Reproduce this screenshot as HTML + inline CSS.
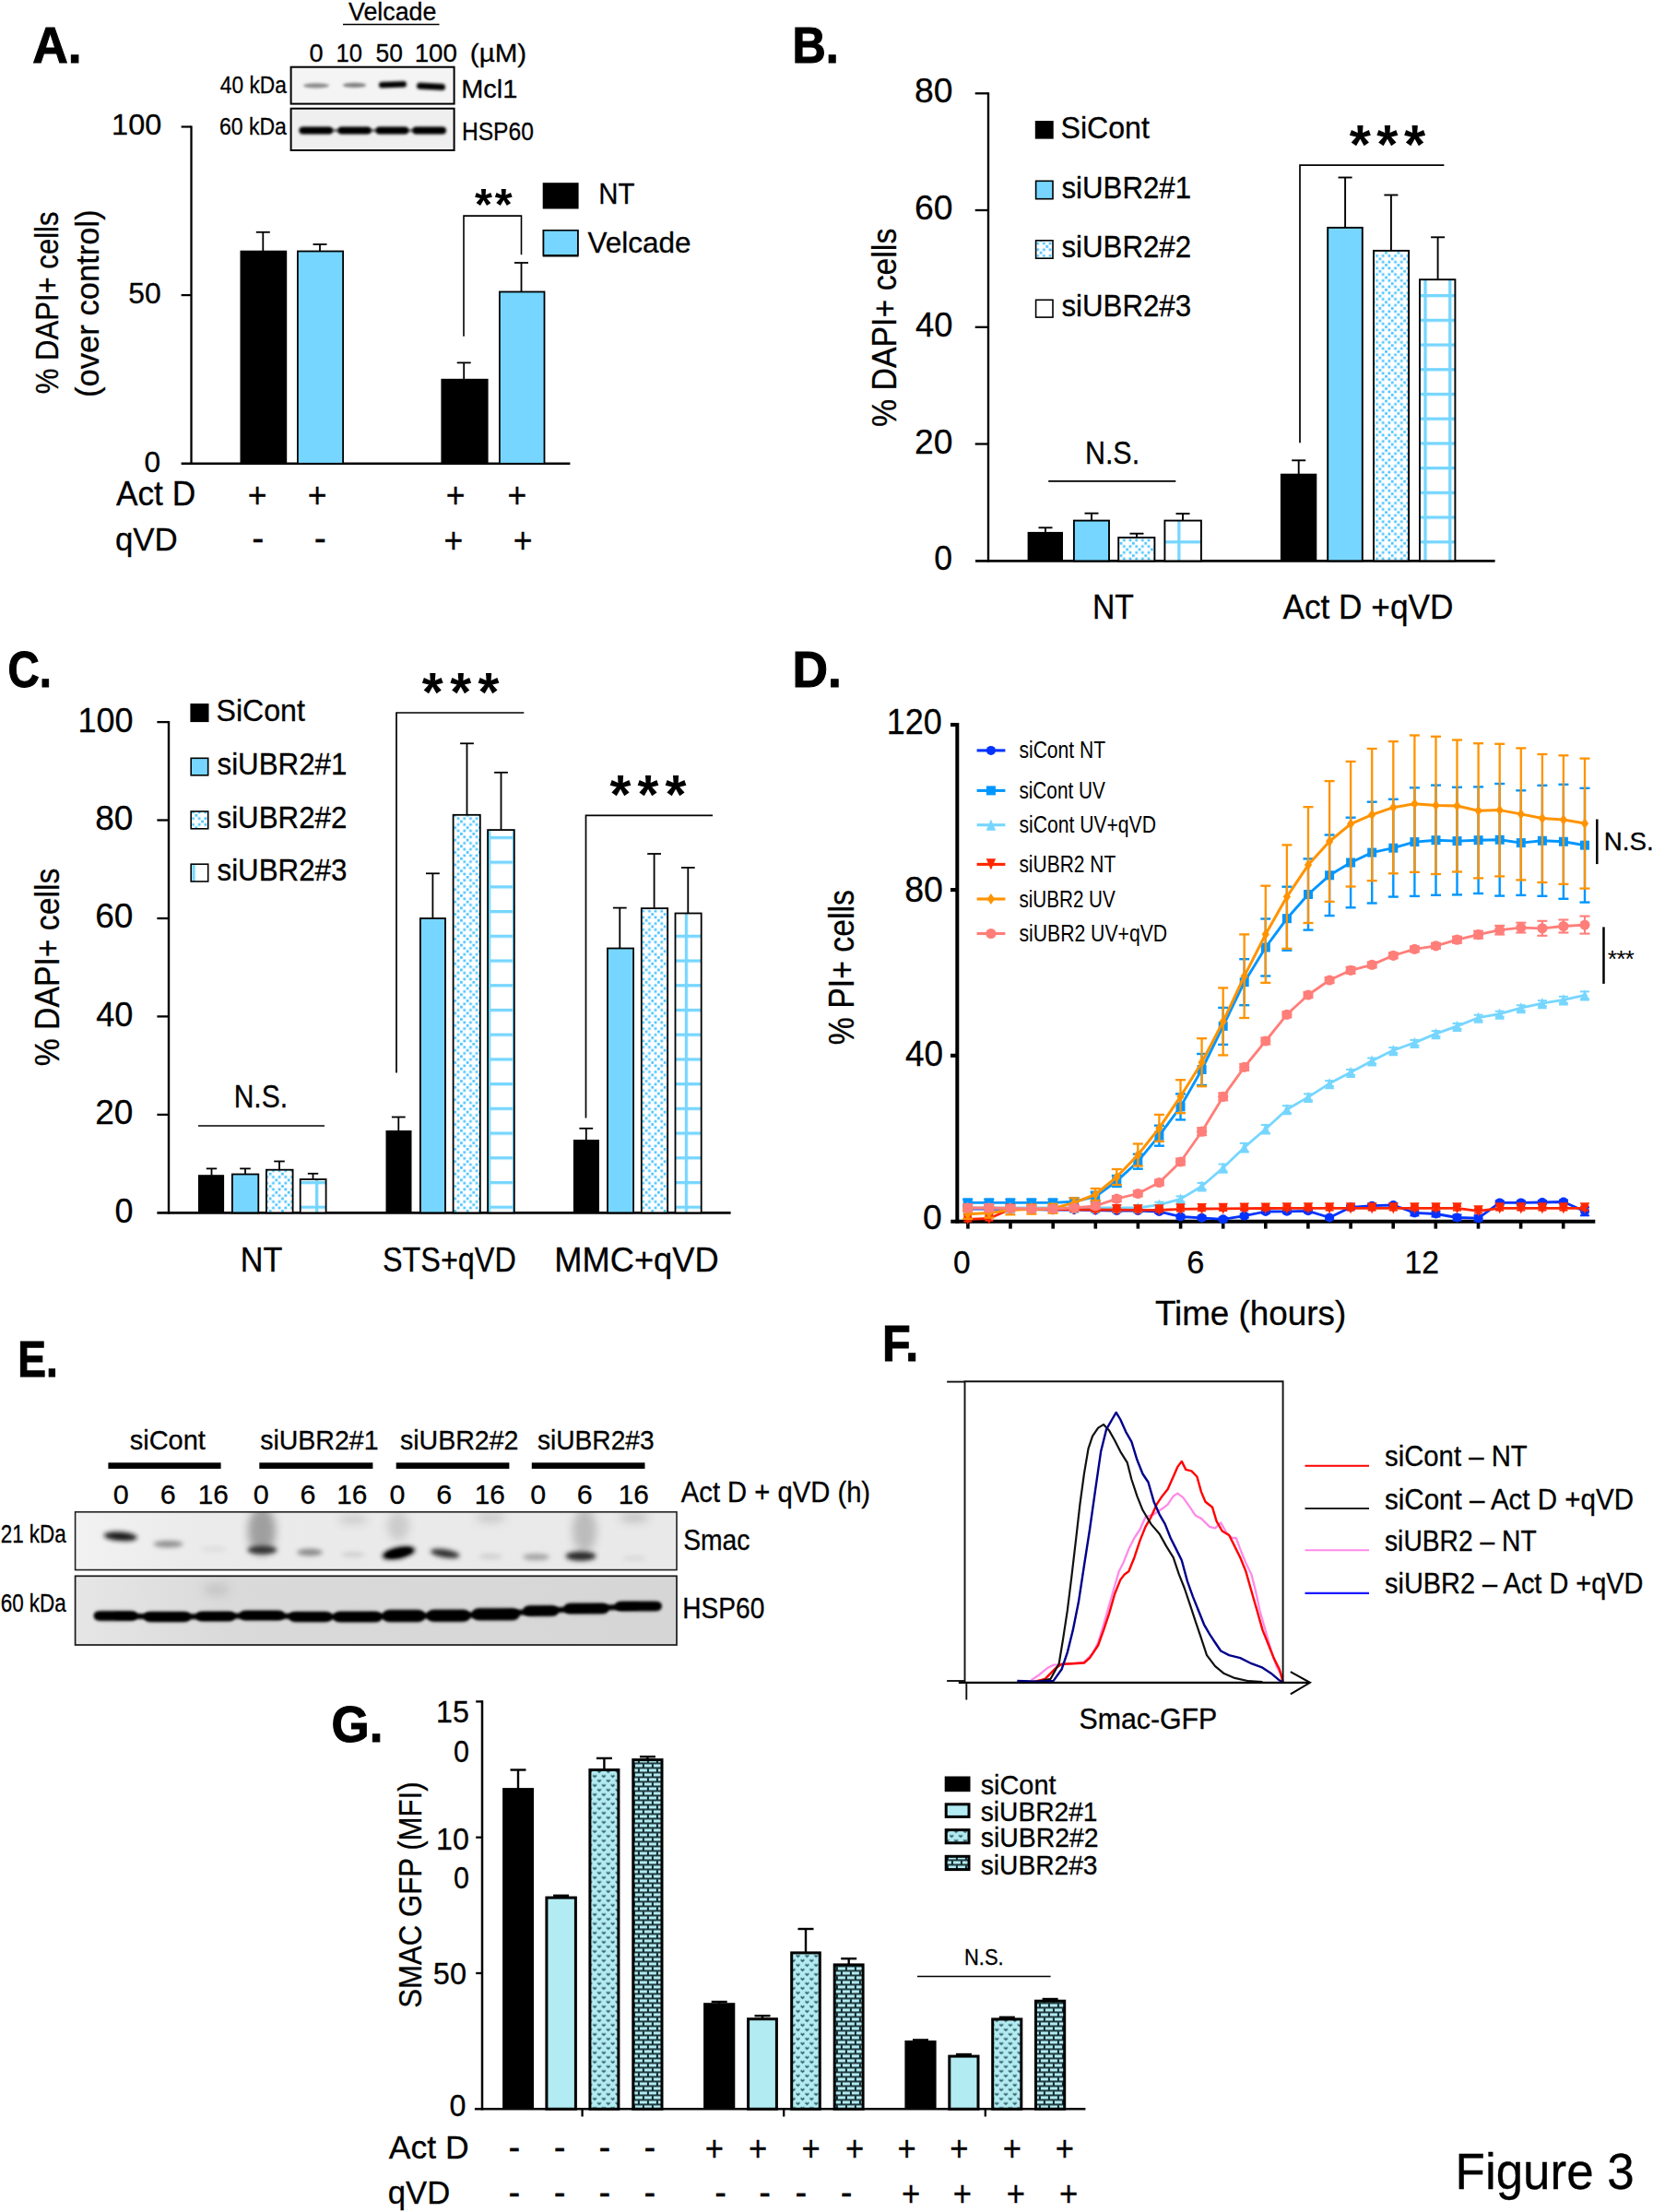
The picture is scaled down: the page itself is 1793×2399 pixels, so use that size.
<!DOCTYPE html>
<html><head><meta charset="utf-8"><title>Figure 3</title>
<style>html,body{margin:0;padding:0;background:#fff}svg{display:block}text{font-family:"Liberation Sans", sans-serif;fill:#000;white-space:pre;stroke:#000;stroke-width:0.3px}text[font-weight=bold]{stroke-width:1.1px}text.ar{stroke-width:0}</style>
</head><body>
<svg width="1793" height="2399" viewBox="0 0 1793 2399">
<defs>
<pattern id="chk" patternUnits="userSpaceOnUse" x="1228.0" y="587.9" width="13.375" height="13.41">
<rect width="13.375" height="13.41" fill="#fff"/>
<g fill="#4CC4FF"><rect x="0.000" y="0.000" width="2.7" height="2.7"/><rect x="3.344" y="3.353" width="2.7" height="2.7"/><rect x="10.031" y="3.353" width="2.7" height="2.7"/><rect x="6.688" y="6.705" width="2.7" height="2.7"/><rect x="3.344" y="10.058" width="2.7" height="2.7"/><rect x="10.031" y="10.058" width="2.7" height="2.7"/></g>
</pattern>
<pattern id="grid" patternUnits="userSpaceOnUse" x="1277.2" y="586.2" width="26.72" height="26.72">
<rect width="26.72" height="26.72" fill="#fff"/>
<rect width="3.3" height="26.72" fill="#76D6FF"/><rect width="26.72" height="3.3" fill="#76D6FF"/>
</pattern>
<pattern id="dots" patternUnits="userSpaceOnUse" x="642.6" y="1923.7" width="9.8" height="10">
<rect width="9.8" height="10" fill="#B2EBF2"/>
<g fill="none" stroke="#2f5960" stroke-width="1.5"><path d="M0.6,1.6 L2.5,3.4 L4.4,1.6"/><path d="M5.5,6.6 L7.4,8.4 L9.3,6.6"/></g>
</pattern>
<pattern id="brick" patternUnits="userSpaceOnUse" x="696.9" y="1911.5" width="10" height="10">
<rect width="10" height="10" fill="#B2EBF2"/>
<g fill="#10282b"><rect width="10" height="1.8"/><rect y="5" width="10" height="1.8"/><rect y="1.8" width="2" height="3.2"/><rect x="5" y="6.8" width="2" height="3.2"/></g>
</pattern>
<filter id="b1" x="-30%" y="-100%" width="160%" height="300%"><feGaussianBlur stdDeviation="1.6"/></filter>
<filter id="b2" x="-30%" y="-100%" width="160%" height="300%"><feGaussianBlur stdDeviation="2.6"/></filter>
<filter id="b3" x="-30%" y="-100%" width="160%" height="300%"><feGaussianBlur stdDeviation="5"/></filter>
<clipPath id="cA1"><rect x="315.8" y="72.8" width="176.6" height="39.6"/></clipPath>
<clipPath id="cA2"><rect x="315.8" y="117.8" width="176.6" height="45"/></clipPath>
<clipPath id="cE1"><rect x="81.6" y="1639.8" width="652.4" height="62.8"/></clipPath>
<clipPath id="cE2"><rect x="81.6" y="1709.3" width="652.4" height="74.7"/></clipPath>
<linearGradient id="gE2" x1="0" x2="1" y1="0" y2="0"><stop offset="0" stop-color="#e6e6e6"/><stop offset="0.25" stop-color="#dadada"/><stop offset="1" stop-color="#d6d6d6"/></linearGradient>
<linearGradient id="gE1" x1="0" x2="1" y1="0" y2="0"><stop offset="0" stop-color="#f2f2f2"/><stop offset="0.2" stop-color="#ebebeb"/><stop offset="1" stop-color="#e9e9e9"/></linearGradient>
</defs>

<rect width="1793" height="2399" fill="#fff"/>
<text x="35.25" y="68.00" font-size="56.10" font-weight="bold" textLength="53.36" lengthAdjust="spacingAndGlyphs">A.</text>
<text x="378.00" y="21.80" font-size="27.62" textLength="95.34" lengthAdjust="spacingAndGlyphs">Velcade</text>
<line x1="372.0" y1="26.5" x2="476.5" y2="26.5" stroke="#000" stroke-width="1.6" />
<text x="335.40" y="67.00" font-size="27.14" textLength="15.09" lengthAdjust="spacingAndGlyphs">0</text>
<text x="364.51" y="67.00" font-size="27.14" textLength="28.47" lengthAdjust="spacingAndGlyphs">10</text>
<text x="407.53" y="67.00" font-size="27.14" textLength="29.36" lengthAdjust="spacingAndGlyphs">50</text>
<text x="449.66" y="67.00" font-size="27.14" textLength="46.23" lengthAdjust="spacingAndGlyphs">100</text>
<text x="509.83" y="67.20" font-size="27.76" textLength="61.39" lengthAdjust="spacingAndGlyphs">(µM)</text>
<text x="238.80" y="100.60" font-size="26.60" textLength="72.01" lengthAdjust="spacingAndGlyphs">40 kDa</text>
<text x="237.93" y="146.30" font-size="26.60" textLength="72.88" lengthAdjust="spacingAndGlyphs">60 kDa</text>
<text x="500.20" y="105.80" font-size="27.62" textLength="61.12" lengthAdjust="spacingAndGlyphs">Mcl1</text>
<text x="500.92" y="151.60" font-size="27.62" textLength="78.00" lengthAdjust="spacingAndGlyphs">HSP60</text>
<rect x="315.0" y="72.0" width="178.1" height="41.0" fill="#f4f4f4"  />
<g clip-path="url(#cA1)">
<ellipse cx="343" cy="92.8" rx="14" ry="2.6" fill="#8a8a8a" filter="url(#b1)"/>
<ellipse cx="384.5" cy="92.4" rx="12.5" ry="2.6" fill="#808080" filter="url(#b1)"/>
<rect x="411" y="88.6" width="30" height="6.4" rx="3.2" fill="#050505" filter="url(#b1)" transform="rotate(-2 426 92)"/>
<rect x="452" y="90.2" width="31" height="7" rx="3.5" fill="#050505" filter="url(#b1)" transform="rotate(3 467 94)"/>
</g>
<rect x="315.6" y="72.7" width="177.0" height="39.9" fill="none" stroke="#000" stroke-width="2.0" />
<rect x="315.0" y="117.0" width="178.1" height="46.6" fill="#efefef"  />
<g clip-path="url(#cA2)">
<rect x="324.4" y="137.4" width="36.6" height="8.2" rx="4.1" fill="#000" filter="url(#b1)"/>
<rect x="366.5" y="137.4" width="36.1" height="8.2" rx="4.1" fill="#000" filter="url(#b1)"/>
<rect x="407.6" y="137.4" width="35.6" height="8.2" rx="4.1" fill="#000" filter="url(#b1)"/>
<rect x="447.4" y="137.4" width="36.6" height="8.2" rx="4.1" fill="#000" filter="url(#b1)"/>
<rect x="330" y="140" width="150" height="3" fill="#000" filter="url(#b1)" opacity="0.6"/>
</g>
<rect x="315.6" y="117.7" width="177.0" height="45.3" fill="none" stroke="#000" stroke-width="2.0" />
<line x1="207.5" y1="136.4" x2="207.5" y2="504.0" stroke="#000" stroke-width="2.3" />
<line x1="196.6" y1="502.8" x2="618.4" y2="502.8" stroke="#000" stroke-width="2.4" />
<line x1="196.6" y1="137.5" x2="207.5" y2="137.5" stroke="#000" stroke-width="2.2" />
<line x1="196.6" y1="320.1" x2="207.5" y2="320.1" stroke="#000" stroke-width="2.2" />
<text x="121.10" y="146.10" font-size="30.86" textLength="54.12" lengthAdjust="spacingAndGlyphs">100</text>
<text x="139.37" y="328.90" font-size="30.86" textLength="35.42" lengthAdjust="spacingAndGlyphs">50</text>
<text x="156.57" y="511.60" font-size="30.57" textLength="17.56" lengthAdjust="spacingAndGlyphs">0</text>
<text transform="translate(63.00,426.40) rotate(-90)" x="-0.91" y="0" font-size="34.16" textLength="197.89" lengthAdjust="spacingAndGlyphs">% DAPI+ cells</text>
<text transform="translate(107.10,429.00) rotate(-90)" x="-2.03" y="0" font-size="34.16" textLength="203.81" lengthAdjust="spacingAndGlyphs">(over control)</text>
<rect x="260.5" y="271.7" width="50.7" height="231.1" fill="#000"  />
<rect x="322.9" y="272.5" width="49.2" height="230.3" fill="#76D6FF" stroke="#000" stroke-width="1.8" />
<rect x="478.4" y="410.8" width="51.2" height="92.0" fill="#000"  />
<rect x="541.9" y="316.5" width="48.6" height="186.3" fill="#76D6FF" stroke="#000" stroke-width="1.8" />
<line x1="285.3" y1="251.8" x2="285.3" y2="272.0" stroke="#000" stroke-width="1.8" />
<line x1="277.8" y1="251.8" x2="292.8" y2="251.8" stroke="#000" stroke-width="1.8" />
<line x1="347.0" y1="265.0" x2="347.0" y2="272.0" stroke="#000" stroke-width="1.8" />
<line x1="339.5" y1="265.0" x2="354.5" y2="265.0" stroke="#000" stroke-width="1.8" />
<line x1="503.2" y1="393.4" x2="503.2" y2="411.0" stroke="#000" stroke-width="1.8" />
<line x1="495.7" y1="393.4" x2="510.7" y2="393.4" stroke="#000" stroke-width="1.8" />
<line x1="565.5" y1="285.0" x2="565.5" y2="316.0" stroke="#000" stroke-width="1.8" />
<line x1="558.0" y1="285.0" x2="573.0" y2="285.0" stroke="#000" stroke-width="1.8" />
<polyline points="503.0,364.8 503.0,234.1 565.5,234.1 565.5,276.3" fill="none" stroke="#000" stroke-width="1.6" />
<text class="ar" x="515.00 536.73" y="238.12" font-size="48.65" font-weight="bold">**</text>
<rect x="588.7" y="198.2" width="38.9" height="28.3" fill="#000"  />
<rect x="589.5" y="249.8" width="37.3" height="27.9" fill="#76D6FF" stroke="#000" stroke-width="1.6" />
<rect x="589.5" y="249.8" width="37.3" height="27.1" fill="#76D6FF" stroke="#000" stroke-width="1.6"/>
<text x="649.17" y="220.80" font-size="32.12" textLength="39.19" lengthAdjust="spacingAndGlyphs">NT</text>
<text x="637.40" y="273.80" font-size="32.12" textLength="112.04" lengthAdjust="spacingAndGlyphs">Velcade</text>
<text x="125.90" y="548.00" font-size="36.05" textLength="86.30" lengthAdjust="spacingAndGlyphs">Act D</text>
<text x="124.92" y="597.10" font-size="35.76" textLength="67.87" lengthAdjust="spacingAndGlyphs">qVD</text>
<text x="268.64" y="549.68" font-size="38.50" textLength="20.77" lengthAdjust="spacingAndGlyphs">+</text>
<text x="333.84" y="549.68" font-size="38.50" textLength="20.77" lengthAdjust="spacingAndGlyphs">+</text>
<text x="483.74" y="549.68" font-size="38.50" textLength="20.77" lengthAdjust="spacingAndGlyphs">+</text>
<text x="550.44" y="549.68" font-size="38.50" textLength="20.77" lengthAdjust="spacingAndGlyphs">+</text>
<text x="273.35" y="597.51" font-size="41.60" textLength="13.10" lengthAdjust="spacingAndGlyphs">-</text>
<text x="340.75" y="597.51" font-size="41.60" textLength="13.10" lengthAdjust="spacingAndGlyphs">-</text>
<text x="481.54" y="599.18" font-size="38.50" textLength="20.77" lengthAdjust="spacingAndGlyphs">+</text>
<text x="556.74" y="599.18" font-size="38.50" textLength="20.77" lengthAdjust="spacingAndGlyphs">+</text>
<text x="859.62" y="68.00" font-size="56.10" font-weight="bold" textLength="50.19" lengthAdjust="spacingAndGlyphs">B.</text>
<line x1="1072.0" y1="100.2" x2="1072.0" y2="609.6" stroke="#000" stroke-width="2.4" />
<line x1="1058.0" y1="608.4" x2="1621.6" y2="608.4" stroke="#000" stroke-width="2.7" />
<line x1="1057.7" y1="481.5" x2="1072.0" y2="481.5" stroke="#000" stroke-width="2.3" />
<line x1="1057.7" y1="354.8" x2="1072.0" y2="354.8" stroke="#000" stroke-width="2.3" />
<line x1="1057.7" y1="228.0" x2="1072.0" y2="228.0" stroke="#000" stroke-width="2.3" />
<line x1="1057.7" y1="101.3" x2="1072.0" y2="101.3" stroke="#000" stroke-width="2.3" />
<text x="1013.25" y="618.30" font-size="37.57" textLength="19.79" lengthAdjust="spacingAndGlyphs">0</text>
<text x="992.01" y="491.58" font-size="37.57" textLength="41.48" lengthAdjust="spacingAndGlyphs">20</text>
<text x="993.00" y="364.86" font-size="37.57" textLength="40.46" lengthAdjust="spacingAndGlyphs">40</text>
<text x="992.01" y="238.14" font-size="37.57" textLength="41.48" lengthAdjust="spacingAndGlyphs">60</text>
<text x="992.01" y="111.42" font-size="37.57" textLength="41.48" lengthAdjust="spacingAndGlyphs">80</text>
<text transform="translate(972.30,462.00) rotate(-90)" x="-0.90" y="0" font-size="37.79" textLength="215.19" lengthAdjust="spacingAndGlyphs">% DAPI+ cells</text>
<rect x="1122.8" y="131.0" width="19.9" height="19.6" fill="#000"  />
<rect x="1123.6" y="196.3" width="18.4" height="19.4" fill="#76D6FF" stroke="#000" stroke-width="1.6"/>
<rect x="1123.6" y="260.8" width="18.4" height="19.4" fill="url(#chk)" stroke="#000" stroke-width="1.6"/>
<rect x="1123.6" y="325.3" width="18.4" height="18.8" fill="url(#grid)" stroke="#000" stroke-width="1.6"/>
<text x="1150.52" y="150.30" font-size="32.70" textLength="96.36" lengthAdjust="spacingAndGlyphs">SiCont</text>
<text x="1151.50" y="214.80" font-size="32.70" textLength="140.63" lengthAdjust="spacingAndGlyphs">siUBR2#1</text>
<text x="1151.50" y="279.20" font-size="32.70" textLength="140.63" lengthAdjust="spacingAndGlyphs">siUBR2#2</text>
<text x="1151.50" y="343.40" font-size="32.70" textLength="140.63" lengthAdjust="spacingAndGlyphs">siUBR2#3</text>
<text x="1176.95" y="502.60" font-size="34.74" textLength="59.17" lengthAdjust="spacingAndGlyphs">N.S.</text>
<line x1="1137.2" y1="521.9" x2="1275.3" y2="521.9" stroke="#000" stroke-width="1.7" />
<text class="ar" x="1463.70 1493.36 1523.01" y="176.85" font-size="59.46" font-weight="bold">***</text>
<polyline points="1410.0,480.2 1410.0,179.1 1566.4,179.1" fill="none" stroke="#000" stroke-width="1.7" />
<rect x="1114.6" y="576.9" width="38.4" height="31.5" fill="#000"  />
<line x1="1134.0" y1="572.3" x2="1134.0" y2="577.4" stroke="#000" stroke-width="1.9" />
<line x1="1126.5" y1="572.3" x2="1141.5" y2="572.3" stroke="#000" stroke-width="1.9" />
<rect x="1164.9" y="564.6" width="38.1" height="43.8" fill="#76D6FF" stroke="#000" stroke-width="1.9" />
<line x1="1184.0" y1="556.7" x2="1184.0" y2="564.1" stroke="#000" stroke-width="1.9" />
<line x1="1176.5" y1="556.7" x2="1191.5" y2="556.7" stroke="#000" stroke-width="1.9" />
<rect x="1213.2" y="583.0" width="39.2" height="25.4" fill="url(#chk)" stroke="#000" stroke-width="1.9" />
<line x1="1233.0" y1="578.7" x2="1233.0" y2="582.5" stroke="#000" stroke-width="1.9" />
<line x1="1225.5" y1="578.7" x2="1240.5" y2="578.7" stroke="#000" stroke-width="1.9" />
<rect x="1263.4" y="564.6" width="39.5" height="43.8" fill="url(#grid)" stroke="#000" stroke-width="1.9" />
<line x1="1283.0" y1="557.1" x2="1283.0" y2="564.1" stroke="#000" stroke-width="1.9" />
<line x1="1275.5" y1="557.1" x2="1290.5" y2="557.1" stroke="#000" stroke-width="1.9" />
<rect x="1388.9" y="513.7" width="39.4" height="94.7" fill="#000"  />
<line x1="1408.7" y1="499.3" x2="1408.7" y2="514.2" stroke="#000" stroke-width="1.9" />
<line x1="1401.2" y1="499.3" x2="1416.2" y2="499.3" stroke="#000" stroke-width="1.9" />
<rect x="1440.2" y="246.9" width="37.6" height="361.4" fill="#76D6FF" stroke="#000" stroke-width="1.9" />
<line x1="1459.1" y1="192.5" x2="1459.1" y2="246.5" stroke="#000" stroke-width="1.9" />
<line x1="1451.6" y1="192.5" x2="1466.6" y2="192.5" stroke="#000" stroke-width="1.9" />
<rect x="1490.0" y="271.9" width="38.1" height="336.4" fill="url(#chk)" stroke="#000" stroke-width="1.9" />
<line x1="1508.9" y1="211.5" x2="1508.9" y2="271.5" stroke="#000" stroke-width="1.9" />
<line x1="1501.4" y1="211.5" x2="1516.4" y2="211.5" stroke="#000" stroke-width="1.9" />
<rect x="1540.0" y="303.2" width="38.4" height="305.1" fill="url(#grid)" stroke="#000" stroke-width="1.9" />
<line x1="1559.6" y1="257.3" x2="1559.6" y2="302.8" stroke="#000" stroke-width="1.9" />
<line x1="1552.1" y1="257.3" x2="1567.1" y2="257.3" stroke="#000" stroke-width="1.9" />
<text x="1185.02" y="671.40" font-size="37.79" textLength="44.95" lengthAdjust="spacingAndGlyphs">NT</text>
<text x="1391.40" y="671.40" font-size="37.79" textLength="185.10" lengthAdjust="spacingAndGlyphs">Act D +qVD</text>
<text x="8.61" y="745.00" font-size="56.10" font-weight="bold" textLength="47.42" lengthAdjust="spacingAndGlyphs">C.</text>
<line x1="183.0" y1="782.0" x2="183.0" y2="1316.5" stroke="#000" stroke-width="2.4" />
<line x1="170.4" y1="1315.3" x2="792.6" y2="1315.3" stroke="#000" stroke-width="2.7" />
<line x1="170.4" y1="1208.9" x2="183.0" y2="1208.9" stroke="#000" stroke-width="2.3" />
<line x1="170.4" y1="1102.4" x2="183.0" y2="1102.4" stroke="#000" stroke-width="2.3" />
<line x1="170.4" y1="996.0" x2="183.0" y2="996.0" stroke="#000" stroke-width="2.3" />
<line x1="170.4" y1="889.5" x2="183.0" y2="889.5" stroke="#000" stroke-width="2.3" />
<line x1="170.4" y1="783.1" x2="183.0" y2="783.1" stroke="#000" stroke-width="2.3" />
<text x="124.45" y="1325.70" font-size="37.71" textLength="19.98" lengthAdjust="spacingAndGlyphs">0</text>
<text x="103.22" y="1219.26" font-size="37.71" textLength="41.24" lengthAdjust="spacingAndGlyphs">20</text>
<text x="104.20" y="1112.82" font-size="37.71" textLength="40.23" lengthAdjust="spacingAndGlyphs">40</text>
<text x="103.22" y="1006.38" font-size="37.71" textLength="41.24" lengthAdjust="spacingAndGlyphs">60</text>
<text x="103.22" y="899.94" font-size="37.71" textLength="41.24" lengthAdjust="spacingAndGlyphs">80</text>
<text x="84.39" y="793.50" font-size="37.71" textLength="60.03" lengthAdjust="spacingAndGlyphs">100</text>
<text transform="translate(64.20,1155.40) rotate(-90)" x="-0.89" y="0" font-size="37.79" textLength="214.59" lengthAdjust="spacingAndGlyphs">% DAPI+ cells</text>
<rect x="206.4" y="763.0" width="20.1" height="20.1" fill="#000"  />
<rect x="207.2" y="822.3" width="18.5" height="18.5" fill="#76D6FF" stroke="#000" stroke-width="1.6"/>
<rect x="207.2" y="880" width="18.5" height="18.8" fill="url(#chk)" stroke="#000" stroke-width="1.6"/>
<rect x="207.2" y="937.2" width="18.5" height="18.8" fill="url(#grid)" stroke="#000" stroke-width="1.6"/>
<text x="234.52" y="782.20" font-size="32.70" textLength="96.36" lengthAdjust="spacingAndGlyphs">SiCont</text>
<text x="235.50" y="839.90" font-size="32.70" textLength="140.83" lengthAdjust="spacingAndGlyphs">siUBR2#1</text>
<text x="235.50" y="897.70" font-size="32.70" textLength="140.83" lengthAdjust="spacingAndGlyphs">siUBR2#2</text>
<text x="235.50" y="954.90" font-size="32.70" textLength="140.83" lengthAdjust="spacingAndGlyphs">siUBR2#3</text>
<text x="253.67" y="1201.20" font-size="34.74" textLength="58.42" lengthAdjust="spacingAndGlyphs">N.S.</text>
<line x1="215.0" y1="1221.0" x2="352.0" y2="1221.0" stroke="#000" stroke-width="1.7" />
<text class="ar" x="457.70 488.16 518.62" y="771.28" font-size="58.92" font-weight="bold">***</text>
<polyline points="430.0,1163.4 430.0,773.0 568.3,773.0" fill="none" stroke="#000" stroke-width="1.7" />
<text class="ar" x="661.40 691.41 721.42" y="881.58" font-size="58.92" font-weight="bold">***</text>
<polyline points="635.5,1212.4 635.5,884.4 773.0,884.4" fill="none" stroke="#000" stroke-width="1.7" />
<rect x="215.0" y="1274.2" width="28.1" height="41.1" fill="#000"  />
<line x1="229.5" y1="1267.4" x2="229.5" y2="1274.7" stroke="#000" stroke-width="1.8" />
<line x1="223.8" y1="1267.4" x2="235.2" y2="1267.4" stroke="#000" stroke-width="1.8" />
<rect x="251.9" y="1273.5" width="28.4" height="41.8" fill="#76D6FF" stroke="#000" stroke-width="1.8" />
<line x1="266.0" y1="1267.4" x2="266.0" y2="1273.1" stroke="#000" stroke-width="1.8" />
<line x1="260.2" y1="1267.4" x2="271.8" y2="1267.4" stroke="#000" stroke-width="1.8" />
<rect x="288.9" y="1268.7" width="28.7" height="46.6" fill="url(#chk)" stroke="#000" stroke-width="1.8" />
<line x1="303.0" y1="1259.5" x2="303.0" y2="1268.3" stroke="#000" stroke-width="1.8" />
<line x1="297.2" y1="1259.5" x2="308.8" y2="1259.5" stroke="#000" stroke-width="1.8" />
<rect x="325.7" y="1279.0" width="27.9" height="36.3" fill="url(#grid)" stroke="#000" stroke-width="1.8" />
<line x1="339.5" y1="1272.8" x2="339.5" y2="1278.6" stroke="#000" stroke-width="1.8" />
<line x1="333.8" y1="1272.8" x2="345.2" y2="1272.8" stroke="#000" stroke-width="1.8" />
<rect x="418.5" y="1226.0" width="28.0" height="89.3" fill="#000"  />
<line x1="432.3" y1="1211.5" x2="432.3" y2="1226.5" stroke="#000" stroke-width="1.8" />
<line x1="424.9" y1="1211.5" x2="439.7" y2="1211.5" stroke="#000" stroke-width="1.8" />
<rect x="455.9" y="996.0" width="27.1" height="319.3" fill="#76D6FF" stroke="#000" stroke-width="1.8" />
<line x1="469.4" y1="947.3" x2="469.4" y2="995.6" stroke="#000" stroke-width="1.8" />
<line x1="462.0" y1="947.3" x2="476.8" y2="947.3" stroke="#000" stroke-width="1.8" />
<rect x="491.6" y="883.8" width="29.2" height="431.5" fill="url(#chk)" stroke="#000" stroke-width="1.8" />
<line x1="506.5" y1="806.3" x2="506.5" y2="883.4" stroke="#000" stroke-width="1.8" />
<line x1="499.1" y1="806.3" x2="513.9" y2="806.3" stroke="#000" stroke-width="1.8" />
<rect x="529.1" y="900.1" width="28.7" height="415.2" fill="url(#grid)" stroke="#000" stroke-width="1.8" />
<line x1="543.5" y1="837.8" x2="543.5" y2="899.7" stroke="#000" stroke-width="1.8" />
<line x1="536.1" y1="837.8" x2="550.9" y2="837.8" stroke="#000" stroke-width="1.8" />
<rect x="621.9" y="1236.0" width="28.1" height="79.3" fill="#000"  />
<line x1="635.8" y1="1223.8" x2="635.8" y2="1236.5" stroke="#000" stroke-width="1.8" />
<line x1="628.4" y1="1223.8" x2="643.2" y2="1223.8" stroke="#000" stroke-width="1.8" />
<rect x="659.0" y="1028.5" width="28.1" height="286.8" fill="#76D6FF" stroke="#000" stroke-width="1.8" />
<line x1="672.3" y1="984.6" x2="672.3" y2="1028.1" stroke="#000" stroke-width="1.8" />
<line x1="664.9" y1="984.6" x2="679.7" y2="984.6" stroke="#000" stroke-width="1.8" />
<rect x="695.8" y="985.1" width="28.4" height="330.2" fill="url(#chk)" stroke="#000" stroke-width="1.8" />
<line x1="709.6" y1="926.0" x2="709.6" y2="984.7" stroke="#000" stroke-width="1.8" />
<line x1="702.2" y1="926.0" x2="717.0" y2="926.0" stroke="#000" stroke-width="1.8" />
<rect x="732.5" y="990.5" width="28.2" height="324.8" fill="url(#grid)" stroke="#000" stroke-width="1.8" />
<line x1="746.3" y1="941.0" x2="746.3" y2="990.1" stroke="#000" stroke-width="1.8" />
<line x1="738.9" y1="941.0" x2="753.7" y2="941.0" stroke="#000" stroke-width="1.8" />
<text x="260.78" y="1378.50" font-size="37.79" textLength="45.59" lengthAdjust="spacingAndGlyphs">NT</text>
<text x="414.94" y="1378.50" font-size="37.79" textLength="144.86" lengthAdjust="spacingAndGlyphs">STS+qVD</text>
<text x="601.32" y="1378.50" font-size="37.79" textLength="178.31" lengthAdjust="spacingAndGlyphs">MMC+qVD</text>
<text x="859.45" y="745.00" font-size="56.10" font-weight="bold" textLength="53.36" lengthAdjust="spacingAndGlyphs">D.</text>
<line x1="1038.3" y1="783.9" x2="1038.3" y2="1326.7" stroke="#000" stroke-width="4.0" />
<line x1="1031.3" y1="1324.7" x2="1730.3" y2="1324.7" stroke="#000" stroke-width="4.1" />
<line x1="1031.0" y1="786.0" x2="1038.3" y2="786.0" stroke="#000" stroke-width="4.1" />
<line x1="1031.0" y1="965.1" x2="1038.3" y2="965.1" stroke="#000" stroke-width="4.1" />
<line x1="1031.0" y1="1144.8" x2="1038.3" y2="1144.8" stroke="#000" stroke-width="4.1" />
<line x1="1049.9" y1="1324.7" x2="1049.9" y2="1332.6" stroke="#000" stroke-width="3.6" />
<line x1="1096.0" y1="1324.7" x2="1096.0" y2="1332.6" stroke="#000" stroke-width="3.6" />
<line x1="1142.2" y1="1324.7" x2="1142.2" y2="1332.6" stroke="#000" stroke-width="3.6" />
<line x1="1188.3" y1="1324.7" x2="1188.3" y2="1332.6" stroke="#000" stroke-width="3.6" />
<line x1="1234.4" y1="1324.7" x2="1234.4" y2="1332.6" stroke="#000" stroke-width="3.6" />
<line x1="1280.6" y1="1324.7" x2="1280.6" y2="1332.6" stroke="#000" stroke-width="3.6" />
<line x1="1326.7" y1="1324.7" x2="1326.7" y2="1332.6" stroke="#000" stroke-width="3.6" />
<line x1="1372.8" y1="1324.7" x2="1372.8" y2="1332.6" stroke="#000" stroke-width="3.6" />
<line x1="1418.9" y1="1324.7" x2="1418.9" y2="1332.6" stroke="#000" stroke-width="3.6" />
<line x1="1465.1" y1="1324.7" x2="1465.1" y2="1332.6" stroke="#000" stroke-width="3.6" />
<line x1="1511.2" y1="1324.7" x2="1511.2" y2="1332.6" stroke="#000" stroke-width="3.6" />
<line x1="1557.3" y1="1324.7" x2="1557.3" y2="1332.6" stroke="#000" stroke-width="3.6" />
<line x1="1603.5" y1="1324.7" x2="1603.5" y2="1332.6" stroke="#000" stroke-width="3.6" />
<line x1="1649.6" y1="1324.7" x2="1649.6" y2="1332.6" stroke="#000" stroke-width="3.6" />
<line x1="1695.7" y1="1324.7" x2="1695.7" y2="1332.6" stroke="#000" stroke-width="3.6" />
<text x="961.70" y="795.50" font-size="37.86" textLength="60.10" lengthAdjust="spacingAndGlyphs">120</text>
<text x="981.22" y="977.50" font-size="38.29" textLength="41.74" lengthAdjust="spacingAndGlyphs">80</text>
<text x="981.90" y="1156.40" font-size="38.29" textLength="41.04" lengthAdjust="spacingAndGlyphs">40</text>
<text x="1001.01" y="1333.30" font-size="37.71" textLength="20.75" lengthAdjust="spacingAndGlyphs">0</text>
<text x="1034.12" y="1381.10" font-size="34.29" textLength="18.61" lengthAdjust="spacingAndGlyphs">0</text>
<text x="1287.20" y="1381.00" font-size="34.29" textLength="19.06" lengthAdjust="spacingAndGlyphs">6</text>
<text x="1523.43" y="1380.80" font-size="34.29" textLength="37.51" lengthAdjust="spacingAndGlyphs">12</text>
<text x="1252.90" y="1436.90" font-size="37.79" textLength="207.34" lengthAdjust="spacingAndGlyphs">Time (hours)</text>
<text transform="translate(926.30,1132.40) rotate(-90)" x="-0.89" y="0" font-size="38.23" textLength="168.27" lengthAdjust="spacingAndGlyphs">% PI+ cells</text>
<line x1="1049.7" y1="1309.0" x2="1049.7" y2="1313.0" stroke="#0433FF" stroke-width="2.0" />
<line x1="1044.7" y1="1309.0" x2="1054.7" y2="1309.0" stroke="#0433FF" stroke-width="2.0" />
<line x1="1044.7" y1="1313.0" x2="1054.7" y2="1313.0" stroke="#0433FF" stroke-width="2.0" />
<line x1="1072.8" y1="1309.0" x2="1072.8" y2="1313.0" stroke="#0433FF" stroke-width="2.0" />
<line x1="1067.8" y1="1309.0" x2="1077.8" y2="1309.0" stroke="#0433FF" stroke-width="2.0" />
<line x1="1067.8" y1="1313.0" x2="1077.8" y2="1313.0" stroke="#0433FF" stroke-width="2.0" />
<line x1="1095.9" y1="1309.5" x2="1095.9" y2="1313.5" stroke="#0433FF" stroke-width="2.0" />
<line x1="1090.9" y1="1309.5" x2="1100.9" y2="1309.5" stroke="#0433FF" stroke-width="2.0" />
<line x1="1090.9" y1="1313.5" x2="1100.9" y2="1313.5" stroke="#0433FF" stroke-width="2.0" />
<line x1="1118.9" y1="1309.5" x2="1118.9" y2="1313.5" stroke="#0433FF" stroke-width="2.0" />
<line x1="1113.9" y1="1309.5" x2="1123.9" y2="1309.5" stroke="#0433FF" stroke-width="2.0" />
<line x1="1113.9" y1="1313.5" x2="1123.9" y2="1313.5" stroke="#0433FF" stroke-width="2.0" />
<line x1="1142.0" y1="1310.0" x2="1142.0" y2="1314.0" stroke="#0433FF" stroke-width="2.0" />
<line x1="1137.0" y1="1310.0" x2="1147.0" y2="1310.0" stroke="#0433FF" stroke-width="2.0" />
<line x1="1137.0" y1="1314.0" x2="1147.0" y2="1314.0" stroke="#0433FF" stroke-width="2.0" />
<line x1="1165.1" y1="1310.0" x2="1165.1" y2="1314.0" stroke="#0433FF" stroke-width="2.0" />
<line x1="1160.1" y1="1310.0" x2="1170.1" y2="1310.0" stroke="#0433FF" stroke-width="2.0" />
<line x1="1160.1" y1="1314.0" x2="1170.1" y2="1314.0" stroke="#0433FF" stroke-width="2.0" />
<line x1="1188.2" y1="1310.5" x2="1188.2" y2="1314.5" stroke="#0433FF" stroke-width="2.0" />
<line x1="1183.2" y1="1310.5" x2="1193.2" y2="1310.5" stroke="#0433FF" stroke-width="2.0" />
<line x1="1183.2" y1="1314.5" x2="1193.2" y2="1314.5" stroke="#0433FF" stroke-width="2.0" />
<line x1="1211.3" y1="1311.0" x2="1211.3" y2="1315.0" stroke="#0433FF" stroke-width="2.0" />
<line x1="1206.3" y1="1311.0" x2="1216.3" y2="1311.0" stroke="#0433FF" stroke-width="2.0" />
<line x1="1206.3" y1="1315.0" x2="1216.3" y2="1315.0" stroke="#0433FF" stroke-width="2.0" />
<line x1="1234.3" y1="1311.0" x2="1234.3" y2="1315.0" stroke="#0433FF" stroke-width="2.0" />
<line x1="1229.3" y1="1311.0" x2="1239.3" y2="1311.0" stroke="#0433FF" stroke-width="2.0" />
<line x1="1229.3" y1="1315.0" x2="1239.3" y2="1315.0" stroke="#0433FF" stroke-width="2.0" />
<line x1="1257.4" y1="1312.0" x2="1257.4" y2="1316.0" stroke="#0433FF" stroke-width="2.0" />
<line x1="1252.4" y1="1312.0" x2="1262.4" y2="1312.0" stroke="#0433FF" stroke-width="2.0" />
<line x1="1252.4" y1="1316.0" x2="1262.4" y2="1316.0" stroke="#0433FF" stroke-width="2.0" />
<line x1="1280.5" y1="1317.5" x2="1280.5" y2="1321.5" stroke="#0433FF" stroke-width="2.0" />
<line x1="1275.5" y1="1317.5" x2="1285.5" y2="1317.5" stroke="#0433FF" stroke-width="2.0" />
<line x1="1275.5" y1="1321.5" x2="1285.5" y2="1321.5" stroke="#0433FF" stroke-width="2.0" />
<line x1="1303.6" y1="1318.8" x2="1303.6" y2="1322.8" stroke="#0433FF" stroke-width="2.0" />
<line x1="1298.6" y1="1318.8" x2="1308.6" y2="1318.8" stroke="#0433FF" stroke-width="2.0" />
<line x1="1298.6" y1="1322.8" x2="1308.6" y2="1322.8" stroke="#0433FF" stroke-width="2.0" />
<line x1="1326.7" y1="1320.3" x2="1326.7" y2="1324.3" stroke="#0433FF" stroke-width="2.0" />
<line x1="1321.7" y1="1320.3" x2="1331.7" y2="1320.3" stroke="#0433FF" stroke-width="2.0" />
<line x1="1321.7" y1="1324.3" x2="1331.7" y2="1324.3" stroke="#0433FF" stroke-width="2.0" />
<line x1="1349.7" y1="1316.6" x2="1349.7" y2="1320.6" stroke="#0433FF" stroke-width="2.0" />
<line x1="1344.7" y1="1316.6" x2="1354.7" y2="1316.6" stroke="#0433FF" stroke-width="2.0" />
<line x1="1344.7" y1="1320.6" x2="1354.7" y2="1320.6" stroke="#0433FF" stroke-width="2.0" />
<line x1="1372.8" y1="1312.0" x2="1372.8" y2="1316.0" stroke="#0433FF" stroke-width="2.0" />
<line x1="1367.8" y1="1312.0" x2="1377.8" y2="1312.0" stroke="#0433FF" stroke-width="2.0" />
<line x1="1367.8" y1="1316.0" x2="1377.8" y2="1316.0" stroke="#0433FF" stroke-width="2.0" />
<line x1="1395.9" y1="1311.8" x2="1395.9" y2="1315.8" stroke="#0433FF" stroke-width="2.0" />
<line x1="1390.9" y1="1311.8" x2="1400.9" y2="1311.8" stroke="#0433FF" stroke-width="2.0" />
<line x1="1390.9" y1="1315.8" x2="1400.9" y2="1315.8" stroke="#0433FF" stroke-width="2.0" />
<line x1="1419.0" y1="1311.3" x2="1419.0" y2="1315.3" stroke="#0433FF" stroke-width="2.0" />
<line x1="1414.0" y1="1311.3" x2="1424.0" y2="1311.3" stroke="#0433FF" stroke-width="2.0" />
<line x1="1414.0" y1="1315.3" x2="1424.0" y2="1315.3" stroke="#0433FF" stroke-width="2.0" />
<line x1="1442.1" y1="1318.5" x2="1442.1" y2="1322.5" stroke="#0433FF" stroke-width="2.0" />
<line x1="1437.1" y1="1318.5" x2="1447.1" y2="1318.5" stroke="#0433FF" stroke-width="2.0" />
<line x1="1437.1" y1="1322.5" x2="1447.1" y2="1322.5" stroke="#0433FF" stroke-width="2.0" />
<line x1="1465.1" y1="1307.3" x2="1465.1" y2="1311.3" stroke="#0433FF" stroke-width="2.0" />
<line x1="1460.1" y1="1307.3" x2="1470.1" y2="1307.3" stroke="#0433FF" stroke-width="2.0" />
<line x1="1460.1" y1="1311.3" x2="1470.1" y2="1311.3" stroke="#0433FF" stroke-width="2.0" />
<line x1="1488.2" y1="1305.7" x2="1488.2" y2="1309.7" stroke="#0433FF" stroke-width="2.0" />
<line x1="1483.2" y1="1305.7" x2="1493.2" y2="1305.7" stroke="#0433FF" stroke-width="2.0" />
<line x1="1483.2" y1="1309.7" x2="1493.2" y2="1309.7" stroke="#0433FF" stroke-width="2.0" />
<line x1="1511.3" y1="1305.0" x2="1511.3" y2="1309.0" stroke="#0433FF" stroke-width="2.0" />
<line x1="1506.3" y1="1305.0" x2="1516.3" y2="1305.0" stroke="#0433FF" stroke-width="2.0" />
<line x1="1506.3" y1="1309.0" x2="1516.3" y2="1309.0" stroke="#0433FF" stroke-width="2.0" />
<line x1="1534.4" y1="1312.4" x2="1534.4" y2="1318.4" stroke="#0433FF" stroke-width="2.0" />
<line x1="1529.4" y1="1312.4" x2="1539.4" y2="1312.4" stroke="#0433FF" stroke-width="2.0" />
<line x1="1529.4" y1="1318.4" x2="1539.4" y2="1318.4" stroke="#0433FF" stroke-width="2.0" />
<line x1="1557.5" y1="1313.5" x2="1557.5" y2="1319.5" stroke="#0433FF" stroke-width="2.0" />
<line x1="1552.5" y1="1313.5" x2="1562.5" y2="1313.5" stroke="#0433FF" stroke-width="2.0" />
<line x1="1552.5" y1="1319.5" x2="1562.5" y2="1319.5" stroke="#0433FF" stroke-width="2.0" />
<line x1="1580.5" y1="1317.5" x2="1580.5" y2="1323.5" stroke="#0433FF" stroke-width="2.0" />
<line x1="1575.5" y1="1317.5" x2="1585.5" y2="1317.5" stroke="#0433FF" stroke-width="2.0" />
<line x1="1575.5" y1="1323.5" x2="1585.5" y2="1323.5" stroke="#0433FF" stroke-width="2.0" />
<line x1="1603.6" y1="1318.2" x2="1603.6" y2="1324.2" stroke="#0433FF" stroke-width="2.0" />
<line x1="1598.6" y1="1318.2" x2="1608.6" y2="1318.2" stroke="#0433FF" stroke-width="2.0" />
<line x1="1598.6" y1="1324.2" x2="1608.6" y2="1324.2" stroke="#0433FF" stroke-width="2.0" />
<line x1="1626.7" y1="1302.4" x2="1626.7" y2="1306.4" stroke="#0433FF" stroke-width="2.0" />
<line x1="1621.7" y1="1302.4" x2="1631.7" y2="1302.4" stroke="#0433FF" stroke-width="2.0" />
<line x1="1621.7" y1="1306.4" x2="1631.7" y2="1306.4" stroke="#0433FF" stroke-width="2.0" />
<line x1="1649.8" y1="1302.4" x2="1649.8" y2="1306.4" stroke="#0433FF" stroke-width="2.0" />
<line x1="1644.8" y1="1302.4" x2="1654.8" y2="1302.4" stroke="#0433FF" stroke-width="2.0" />
<line x1="1644.8" y1="1306.4" x2="1654.8" y2="1306.4" stroke="#0433FF" stroke-width="2.0" />
<line x1="1672.9" y1="1302.0" x2="1672.9" y2="1306.0" stroke="#0433FF" stroke-width="2.0" />
<line x1="1667.9" y1="1302.0" x2="1677.9" y2="1302.0" stroke="#0433FF" stroke-width="2.0" />
<line x1="1667.9" y1="1306.0" x2="1677.9" y2="1306.0" stroke="#0433FF" stroke-width="2.0" />
<line x1="1695.9" y1="1301.5" x2="1695.9" y2="1305.5" stroke="#0433FF" stroke-width="2.0" />
<line x1="1690.9" y1="1301.5" x2="1700.9" y2="1301.5" stroke="#0433FF" stroke-width="2.0" />
<line x1="1690.9" y1="1305.5" x2="1700.9" y2="1305.5" stroke="#0433FF" stroke-width="2.0" />
<line x1="1719.0" y1="1309.3" x2="1719.0" y2="1318.3" stroke="#0433FF" stroke-width="2.0" />
<line x1="1714.0" y1="1309.3" x2="1724.0" y2="1309.3" stroke="#0433FF" stroke-width="2.0" />
<line x1="1714.0" y1="1318.3" x2="1724.0" y2="1318.3" stroke="#0433FF" stroke-width="2.0" />
<polyline points="1049.7,1311.0 1072.8,1311.0 1095.9,1311.5 1118.9,1311.5 1142.0,1312.0 1165.1,1312.0 1188.2,1312.5 1211.3,1313.0 1234.3,1313.0 1257.4,1314.0 1280.5,1319.5 1303.6,1320.8 1326.7,1322.3 1349.7,1318.6 1372.8,1314.0 1395.9,1313.8 1419.0,1313.3 1442.1,1320.5 1465.1,1309.3 1488.2,1307.7 1511.3,1307.0 1534.4,1315.4 1557.5,1316.5 1580.5,1320.5 1603.6,1321.2 1626.7,1304.4 1649.8,1304.4 1672.9,1304.0 1695.9,1303.5 1719.0,1313.8" fill="none" stroke="#0433FF" stroke-width="2.8" stroke-linejoin="round"/>
<circle cx="1049.7" cy="1311.0" r="5.0" fill="#0433FF"/>
<circle cx="1072.8" cy="1311.0" r="5.0" fill="#0433FF"/>
<circle cx="1095.9" cy="1311.5" r="5.0" fill="#0433FF"/>
<circle cx="1118.9" cy="1311.5" r="5.0" fill="#0433FF"/>
<circle cx="1142.0" cy="1312.0" r="5.0" fill="#0433FF"/>
<circle cx="1165.1" cy="1312.0" r="5.0" fill="#0433FF"/>
<circle cx="1188.2" cy="1312.5" r="5.0" fill="#0433FF"/>
<circle cx="1211.3" cy="1313.0" r="5.0" fill="#0433FF"/>
<circle cx="1234.3" cy="1313.0" r="5.0" fill="#0433FF"/>
<circle cx="1257.4" cy="1314.0" r="5.0" fill="#0433FF"/>
<circle cx="1280.5" cy="1319.5" r="5.0" fill="#0433FF"/>
<circle cx="1303.6" cy="1320.8" r="5.0" fill="#0433FF"/>
<circle cx="1326.7" cy="1322.3" r="5.0" fill="#0433FF"/>
<circle cx="1349.7" cy="1318.6" r="5.0" fill="#0433FF"/>
<circle cx="1372.8" cy="1314.0" r="5.0" fill="#0433FF"/>
<circle cx="1395.9" cy="1313.8" r="5.0" fill="#0433FF"/>
<circle cx="1419.0" cy="1313.3" r="5.0" fill="#0433FF"/>
<circle cx="1442.1" cy="1320.5" r="5.0" fill="#0433FF"/>
<circle cx="1465.1" cy="1309.3" r="5.0" fill="#0433FF"/>
<circle cx="1488.2" cy="1307.7" r="5.0" fill="#0433FF"/>
<circle cx="1511.3" cy="1307.0" r="5.0" fill="#0433FF"/>
<circle cx="1534.4" cy="1315.4" r="5.0" fill="#0433FF"/>
<circle cx="1557.5" cy="1316.5" r="5.0" fill="#0433FF"/>
<circle cx="1580.5" cy="1320.5" r="5.0" fill="#0433FF"/>
<circle cx="1603.6" cy="1321.2" r="5.0" fill="#0433FF"/>
<circle cx="1626.7" cy="1304.4" r="5.0" fill="#0433FF"/>
<circle cx="1649.8" cy="1304.4" r="5.0" fill="#0433FF"/>
<circle cx="1672.9" cy="1304.0" r="5.0" fill="#0433FF"/>
<circle cx="1695.9" cy="1303.5" r="5.0" fill="#0433FF"/>
<circle cx="1719.0" cy="1313.8" r="5.0" fill="#0433FF"/>
<line x1="1049.7" y1="1300.9" x2="1049.7" y2="1307.9" stroke="#0096FF" stroke-width="2.4" />
<line x1="1044.2" y1="1300.9" x2="1055.2" y2="1300.9" stroke="#0096FF" stroke-width="2.4" />
<line x1="1044.2" y1="1307.9" x2="1055.2" y2="1307.9" stroke="#0096FF" stroke-width="2.4" />
<line x1="1072.8" y1="1300.9" x2="1072.8" y2="1307.9" stroke="#0096FF" stroke-width="2.4" />
<line x1="1067.3" y1="1300.9" x2="1078.3" y2="1300.9" stroke="#0096FF" stroke-width="2.4" />
<line x1="1067.3" y1="1307.9" x2="1078.3" y2="1307.9" stroke="#0096FF" stroke-width="2.4" />
<line x1="1095.9" y1="1300.9" x2="1095.9" y2="1307.9" stroke="#0096FF" stroke-width="2.4" />
<line x1="1090.4" y1="1300.9" x2="1101.4" y2="1300.9" stroke="#0096FF" stroke-width="2.4" />
<line x1="1090.4" y1="1307.9" x2="1101.4" y2="1307.9" stroke="#0096FF" stroke-width="2.4" />
<line x1="1118.9" y1="1300.9" x2="1118.9" y2="1307.9" stroke="#0096FF" stroke-width="2.4" />
<line x1="1113.4" y1="1300.9" x2="1124.4" y2="1300.9" stroke="#0096FF" stroke-width="2.4" />
<line x1="1113.4" y1="1307.9" x2="1124.4" y2="1307.9" stroke="#0096FF" stroke-width="2.4" />
<line x1="1142.0" y1="1300.9" x2="1142.0" y2="1307.9" stroke="#0096FF" stroke-width="2.4" />
<line x1="1136.5" y1="1300.9" x2="1147.5" y2="1300.9" stroke="#0096FF" stroke-width="2.4" />
<line x1="1136.5" y1="1307.9" x2="1147.5" y2="1307.9" stroke="#0096FF" stroke-width="2.4" />
<line x1="1165.1" y1="1299.3" x2="1165.1" y2="1307.3" stroke="#0096FF" stroke-width="2.4" />
<line x1="1159.6" y1="1299.3" x2="1170.6" y2="1299.3" stroke="#0096FF" stroke-width="2.4" />
<line x1="1159.6" y1="1307.3" x2="1170.6" y2="1307.3" stroke="#0096FF" stroke-width="2.4" />
<line x1="1188.2" y1="1292.7" x2="1188.2" y2="1302.7" stroke="#0096FF" stroke-width="2.4" />
<line x1="1182.7" y1="1292.7" x2="1193.7" y2="1292.7" stroke="#0096FF" stroke-width="2.4" />
<line x1="1182.7" y1="1302.7" x2="1193.7" y2="1302.7" stroke="#0096FF" stroke-width="2.4" />
<line x1="1211.3" y1="1275.0" x2="1211.3" y2="1287.0" stroke="#0096FF" stroke-width="2.4" />
<line x1="1205.8" y1="1275.0" x2="1216.8" y2="1275.0" stroke="#0096FF" stroke-width="2.4" />
<line x1="1205.8" y1="1287.0" x2="1216.8" y2="1287.0" stroke="#0096FF" stroke-width="2.4" />
<line x1="1234.3" y1="1251.7" x2="1234.3" y2="1267.7" stroke="#0096FF" stroke-width="2.4" />
<line x1="1228.8" y1="1251.7" x2="1239.8" y2="1251.7" stroke="#0096FF" stroke-width="2.4" />
<line x1="1228.8" y1="1267.7" x2="1239.8" y2="1267.7" stroke="#0096FF" stroke-width="2.4" />
<line x1="1257.4" y1="1220.7" x2="1257.4" y2="1242.7" stroke="#0096FF" stroke-width="2.4" />
<line x1="1251.9" y1="1220.7" x2="1262.9" y2="1220.7" stroke="#0096FF" stroke-width="2.4" />
<line x1="1251.9" y1="1242.7" x2="1262.9" y2="1242.7" stroke="#0096FF" stroke-width="2.4" />
<line x1="1280.5" y1="1186.4" x2="1280.5" y2="1214.4" stroke="#0096FF" stroke-width="2.4" />
<line x1="1275.0" y1="1186.4" x2="1286.0" y2="1186.4" stroke="#0096FF" stroke-width="2.4" />
<line x1="1275.0" y1="1214.4" x2="1286.0" y2="1214.4" stroke="#0096FF" stroke-width="2.4" />
<line x1="1303.6" y1="1143.0" x2="1303.6" y2="1177.0" stroke="#0096FF" stroke-width="2.4" />
<line x1="1298.1" y1="1143.0" x2="1309.1" y2="1143.0" stroke="#0096FF" stroke-width="2.4" />
<line x1="1298.1" y1="1177.0" x2="1309.1" y2="1177.0" stroke="#0096FF" stroke-width="2.4" />
<line x1="1326.7" y1="1092.9" x2="1326.7" y2="1132.9" stroke="#0096FF" stroke-width="2.4" />
<line x1="1321.2" y1="1092.9" x2="1332.2" y2="1092.9" stroke="#0096FF" stroke-width="2.4" />
<line x1="1321.2" y1="1132.9" x2="1332.2" y2="1132.9" stroke="#0096FF" stroke-width="2.4" />
<line x1="1349.7" y1="1040.2" x2="1349.7" y2="1090.2" stroke="#0096FF" stroke-width="2.4" />
<line x1="1344.2" y1="1040.2" x2="1355.2" y2="1040.2" stroke="#0096FF" stroke-width="2.4" />
<line x1="1344.2" y1="1090.2" x2="1355.2" y2="1090.2" stroke="#0096FF" stroke-width="2.4" />
<line x1="1372.8" y1="996.5" x2="1372.8" y2="1058.5" stroke="#0096FF" stroke-width="2.4" />
<line x1="1367.3" y1="996.5" x2="1378.3" y2="996.5" stroke="#0096FF" stroke-width="2.4" />
<line x1="1367.3" y1="1058.5" x2="1378.3" y2="1058.5" stroke="#0096FF" stroke-width="2.4" />
<line x1="1395.9" y1="961.7" x2="1395.9" y2="1030.7" stroke="#0096FF" stroke-width="2.4" />
<line x1="1390.4" y1="961.7" x2="1401.4" y2="961.7" stroke="#0096FF" stroke-width="2.4" />
<line x1="1390.4" y1="1030.7" x2="1401.4" y2="1030.7" stroke="#0096FF" stroke-width="2.4" />
<line x1="1419.0" y1="931.4" x2="1419.0" y2="1008.6" stroke="#0096FF" stroke-width="2.4" />
<line x1="1413.5" y1="931.4" x2="1424.5" y2="931.4" stroke="#0096FF" stroke-width="2.4" />
<line x1="1413.5" y1="1008.6" x2="1424.5" y2="1008.6" stroke="#0096FF" stroke-width="2.4" />
<line x1="1442.1" y1="905.5" x2="1442.1" y2="993.1" stroke="#0096FF" stroke-width="2.4" />
<line x1="1436.6" y1="905.5" x2="1447.6" y2="905.5" stroke="#0096FF" stroke-width="2.4" />
<line x1="1436.6" y1="993.1" x2="1447.6" y2="993.1" stroke="#0096FF" stroke-width="2.4" />
<line x1="1465.1" y1="886.7" x2="1465.1" y2="984.3" stroke="#0096FF" stroke-width="2.4" />
<line x1="1459.6" y1="886.7" x2="1470.6" y2="886.7" stroke="#0096FF" stroke-width="2.4" />
<line x1="1459.6" y1="984.3" x2="1470.6" y2="984.3" stroke="#0096FF" stroke-width="2.4" />
<line x1="1488.2" y1="869.7" x2="1488.2" y2="979.5" stroke="#0096FF" stroke-width="2.4" />
<line x1="1482.7" y1="869.7" x2="1493.7" y2="869.7" stroke="#0096FF" stroke-width="2.4" />
<line x1="1482.7" y1="979.5" x2="1493.7" y2="979.5" stroke="#0096FF" stroke-width="2.4" />
<line x1="1511.3" y1="866.8" x2="1511.3" y2="972.6" stroke="#0096FF" stroke-width="2.4" />
<line x1="1505.8" y1="866.8" x2="1516.8" y2="866.8" stroke="#0096FF" stroke-width="2.4" />
<line x1="1505.8" y1="972.6" x2="1516.8" y2="972.6" stroke="#0096FF" stroke-width="2.4" />
<line x1="1534.4" y1="854.3" x2="1534.4" y2="971.9" stroke="#0096FF" stroke-width="2.4" />
<line x1="1528.9" y1="854.3" x2="1539.9" y2="854.3" stroke="#0096FF" stroke-width="2.4" />
<line x1="1528.9" y1="971.9" x2="1539.9" y2="971.9" stroke="#0096FF" stroke-width="2.4" />
<line x1="1557.5" y1="851.6" x2="1557.5" y2="970.8" stroke="#0096FF" stroke-width="2.4" />
<line x1="1552.0" y1="851.6" x2="1563.0" y2="851.6" stroke="#0096FF" stroke-width="2.4" />
<line x1="1552.0" y1="970.8" x2="1563.0" y2="970.8" stroke="#0096FF" stroke-width="2.4" />
<line x1="1580.5" y1="853.8" x2="1580.5" y2="970.4" stroke="#0096FF" stroke-width="2.4" />
<line x1="1575.0" y1="853.8" x2="1586.0" y2="853.8" stroke="#0096FF" stroke-width="2.4" />
<line x1="1575.0" y1="970.4" x2="1586.0" y2="970.4" stroke="#0096FF" stroke-width="2.4" />
<line x1="1603.6" y1="853.4" x2="1603.6" y2="969.0" stroke="#0096FF" stroke-width="2.4" />
<line x1="1598.1" y1="853.4" x2="1609.1" y2="853.4" stroke="#0096FF" stroke-width="2.4" />
<line x1="1598.1" y1="969.0" x2="1609.1" y2="969.0" stroke="#0096FF" stroke-width="2.4" />
<line x1="1626.7" y1="850.0" x2="1626.7" y2="971.6" stroke="#0096FF" stroke-width="2.4" />
<line x1="1621.2" y1="850.0" x2="1632.2" y2="850.0" stroke="#0096FF" stroke-width="2.4" />
<line x1="1621.2" y1="971.6" x2="1632.2" y2="971.6" stroke="#0096FF" stroke-width="2.4" />
<line x1="1649.8" y1="857.3" x2="1649.8" y2="970.9" stroke="#0096FF" stroke-width="2.4" />
<line x1="1644.3" y1="857.3" x2="1655.3" y2="857.3" stroke="#0096FF" stroke-width="2.4" />
<line x1="1644.3" y1="970.9" x2="1655.3" y2="970.9" stroke="#0096FF" stroke-width="2.4" />
<line x1="1672.9" y1="851.8" x2="1672.9" y2="971.8" stroke="#0096FF" stroke-width="2.4" />
<line x1="1667.4" y1="851.8" x2="1678.4" y2="851.8" stroke="#0096FF" stroke-width="2.4" />
<line x1="1667.4" y1="971.8" x2="1678.4" y2="971.8" stroke="#0096FF" stroke-width="2.4" />
<line x1="1695.9" y1="850.8" x2="1695.9" y2="974.8" stroke="#0096FF" stroke-width="2.4" />
<line x1="1690.4" y1="850.8" x2="1701.4" y2="850.8" stroke="#0096FF" stroke-width="2.4" />
<line x1="1690.4" y1="974.8" x2="1701.4" y2="974.8" stroke="#0096FF" stroke-width="2.4" />
<line x1="1719.0" y1="854.8" x2="1719.0" y2="978.6" stroke="#0096FF" stroke-width="2.4" />
<line x1="1713.5" y1="854.8" x2="1724.5" y2="854.8" stroke="#0096FF" stroke-width="2.4" />
<line x1="1713.5" y1="978.6" x2="1724.5" y2="978.6" stroke="#0096FF" stroke-width="2.4" />
<polyline points="1049.7,1304.4 1072.8,1304.4 1095.9,1304.4 1118.9,1304.4 1142.0,1304.4 1165.1,1303.3 1188.2,1297.7 1211.3,1281.0 1234.3,1259.7 1257.4,1231.7 1280.5,1200.4 1303.6,1160.0 1326.7,1112.9 1349.7,1065.2 1372.8,1027.5 1395.9,996.2 1419.0,970.0 1442.1,949.3 1465.1,935.5 1488.2,924.6 1511.3,919.7 1534.4,913.1 1557.5,911.2 1580.5,912.1 1603.6,911.2 1626.7,910.8 1649.8,914.1 1672.9,911.8 1695.9,912.8 1719.0,916.7" fill="none" stroke="#0096FF" stroke-width="2.9" stroke-linejoin="round"/>
<rect x="1044.7" y="1299.4" width="10.0" height="10.0" fill="#0096FF"/>
<rect x="1067.8" y="1299.4" width="10.0" height="10.0" fill="#0096FF"/>
<rect x="1090.9" y="1299.4" width="10.0" height="10.0" fill="#0096FF"/>
<rect x="1113.9" y="1299.4" width="10.0" height="10.0" fill="#0096FF"/>
<rect x="1137.0" y="1299.4" width="10.0" height="10.0" fill="#0096FF"/>
<rect x="1160.1" y="1298.3" width="10.0" height="10.0" fill="#0096FF"/>
<rect x="1183.2" y="1292.7" width="10.0" height="10.0" fill="#0096FF"/>
<rect x="1206.3" y="1276.0" width="10.0" height="10.0" fill="#0096FF"/>
<rect x="1229.3" y="1254.7" width="10.0" height="10.0" fill="#0096FF"/>
<rect x="1252.4" y="1226.7" width="10.0" height="10.0" fill="#0096FF"/>
<rect x="1275.5" y="1195.4" width="10.0" height="10.0" fill="#0096FF"/>
<rect x="1298.6" y="1155.0" width="10.0" height="10.0" fill="#0096FF"/>
<rect x="1321.7" y="1107.9" width="10.0" height="10.0" fill="#0096FF"/>
<rect x="1344.7" y="1060.2" width="10.0" height="10.0" fill="#0096FF"/>
<rect x="1367.8" y="1022.5" width="10.0" height="10.0" fill="#0096FF"/>
<rect x="1390.9" y="991.2" width="10.0" height="10.0" fill="#0096FF"/>
<rect x="1414.0" y="965.0" width="10.0" height="10.0" fill="#0096FF"/>
<rect x="1437.1" y="944.3" width="10.0" height="10.0" fill="#0096FF"/>
<rect x="1460.1" y="930.5" width="10.0" height="10.0" fill="#0096FF"/>
<rect x="1483.2" y="919.6" width="10.0" height="10.0" fill="#0096FF"/>
<rect x="1506.3" y="914.7" width="10.0" height="10.0" fill="#0096FF"/>
<rect x="1529.4" y="908.1" width="10.0" height="10.0" fill="#0096FF"/>
<rect x="1552.5" y="906.2" width="10.0" height="10.0" fill="#0096FF"/>
<rect x="1575.5" y="907.1" width="10.0" height="10.0" fill="#0096FF"/>
<rect x="1598.6" y="906.2" width="10.0" height="10.0" fill="#0096FF"/>
<rect x="1621.7" y="905.8" width="10.0" height="10.0" fill="#0096FF"/>
<rect x="1644.8" y="909.1" width="10.0" height="10.0" fill="#0096FF"/>
<rect x="1667.9" y="906.8" width="10.0" height="10.0" fill="#0096FF"/>
<rect x="1690.9" y="907.8" width="10.0" height="10.0" fill="#0096FF"/>
<rect x="1714.0" y="911.7" width="10.0" height="10.0" fill="#0096FF"/>
<line x1="1049.7" y1="1307.0" x2="1049.7" y2="1313.0" stroke="#76D6FF" stroke-width="2.0" />
<line x1="1044.7" y1="1307.0" x2="1054.7" y2="1307.0" stroke="#76D6FF" stroke-width="2.0" />
<line x1="1044.7" y1="1313.0" x2="1054.7" y2="1313.0" stroke="#76D6FF" stroke-width="2.0" />
<line x1="1072.8" y1="1307.0" x2="1072.8" y2="1313.0" stroke="#76D6FF" stroke-width="2.0" />
<line x1="1067.8" y1="1307.0" x2="1077.8" y2="1307.0" stroke="#76D6FF" stroke-width="2.0" />
<line x1="1067.8" y1="1313.0" x2="1077.8" y2="1313.0" stroke="#76D6FF" stroke-width="2.0" />
<line x1="1095.9" y1="1307.0" x2="1095.9" y2="1313.0" stroke="#76D6FF" stroke-width="2.0" />
<line x1="1090.9" y1="1307.0" x2="1100.9" y2="1307.0" stroke="#76D6FF" stroke-width="2.0" />
<line x1="1090.9" y1="1313.0" x2="1100.9" y2="1313.0" stroke="#76D6FF" stroke-width="2.0" />
<line x1="1118.9" y1="1307.0" x2="1118.9" y2="1313.0" stroke="#76D6FF" stroke-width="2.0" />
<line x1="1113.9" y1="1307.0" x2="1123.9" y2="1307.0" stroke="#76D6FF" stroke-width="2.0" />
<line x1="1113.9" y1="1313.0" x2="1123.9" y2="1313.0" stroke="#76D6FF" stroke-width="2.0" />
<line x1="1142.0" y1="1307.0" x2="1142.0" y2="1313.0" stroke="#76D6FF" stroke-width="2.0" />
<line x1="1137.0" y1="1307.0" x2="1147.0" y2="1307.0" stroke="#76D6FF" stroke-width="2.0" />
<line x1="1137.0" y1="1313.0" x2="1147.0" y2="1313.0" stroke="#76D6FF" stroke-width="2.0" />
<line x1="1165.1" y1="1307.0" x2="1165.1" y2="1313.0" stroke="#76D6FF" stroke-width="2.0" />
<line x1="1160.1" y1="1307.0" x2="1170.1" y2="1307.0" stroke="#76D6FF" stroke-width="2.0" />
<line x1="1160.1" y1="1313.0" x2="1170.1" y2="1313.0" stroke="#76D6FF" stroke-width="2.0" />
<line x1="1188.2" y1="1307.0" x2="1188.2" y2="1313.0" stroke="#76D6FF" stroke-width="2.0" />
<line x1="1183.2" y1="1307.0" x2="1193.2" y2="1307.0" stroke="#76D6FF" stroke-width="2.0" />
<line x1="1183.2" y1="1313.0" x2="1193.2" y2="1313.0" stroke="#76D6FF" stroke-width="2.0" />
<line x1="1211.3" y1="1307.0" x2="1211.3" y2="1313.0" stroke="#76D6FF" stroke-width="2.0" />
<line x1="1206.3" y1="1307.0" x2="1216.3" y2="1307.0" stroke="#76D6FF" stroke-width="2.0" />
<line x1="1206.3" y1="1313.0" x2="1216.3" y2="1313.0" stroke="#76D6FF" stroke-width="2.0" />
<line x1="1234.3" y1="1307.0" x2="1234.3" y2="1313.0" stroke="#76D6FF" stroke-width="2.0" />
<line x1="1229.3" y1="1307.0" x2="1239.3" y2="1307.0" stroke="#76D6FF" stroke-width="2.0" />
<line x1="1229.3" y1="1313.0" x2="1239.3" y2="1313.0" stroke="#76D6FF" stroke-width="2.0" />
<line x1="1257.4" y1="1303.7" x2="1257.4" y2="1309.7" stroke="#76D6FF" stroke-width="2.0" />
<line x1="1252.4" y1="1303.7" x2="1262.4" y2="1303.7" stroke="#76D6FF" stroke-width="2.0" />
<line x1="1252.4" y1="1309.7" x2="1262.4" y2="1309.7" stroke="#76D6FF" stroke-width="2.0" />
<line x1="1280.5" y1="1297.4" x2="1280.5" y2="1303.4" stroke="#76D6FF" stroke-width="2.0" />
<line x1="1275.5" y1="1297.4" x2="1285.5" y2="1297.4" stroke="#76D6FF" stroke-width="2.0" />
<line x1="1275.5" y1="1303.4" x2="1285.5" y2="1303.4" stroke="#76D6FF" stroke-width="2.0" />
<line x1="1303.6" y1="1283.0" x2="1303.6" y2="1290.0" stroke="#76D6FF" stroke-width="2.0" />
<line x1="1298.6" y1="1283.0" x2="1308.6" y2="1283.0" stroke="#76D6FF" stroke-width="2.0" />
<line x1="1298.6" y1="1290.0" x2="1308.6" y2="1290.0" stroke="#76D6FF" stroke-width="2.0" />
<line x1="1326.7" y1="1262.6" x2="1326.7" y2="1270.6" stroke="#76D6FF" stroke-width="2.0" />
<line x1="1321.7" y1="1262.6" x2="1331.7" y2="1262.6" stroke="#76D6FF" stroke-width="2.0" />
<line x1="1321.7" y1="1270.6" x2="1331.7" y2="1270.6" stroke="#76D6FF" stroke-width="2.0" />
<line x1="1349.7" y1="1239.9" x2="1349.7" y2="1248.9" stroke="#76D6FF" stroke-width="2.0" />
<line x1="1344.7" y1="1239.9" x2="1354.7" y2="1239.9" stroke="#76D6FF" stroke-width="2.0" />
<line x1="1344.7" y1="1248.9" x2="1354.7" y2="1248.9" stroke="#76D6FF" stroke-width="2.0" />
<line x1="1372.8" y1="1220.0" x2="1372.8" y2="1229.0" stroke="#76D6FF" stroke-width="2.0" />
<line x1="1367.8" y1="1220.0" x2="1377.8" y2="1220.0" stroke="#76D6FF" stroke-width="2.0" />
<line x1="1367.8" y1="1229.0" x2="1377.8" y2="1229.0" stroke="#76D6FF" stroke-width="2.0" />
<line x1="1395.9" y1="1199.2" x2="1395.9" y2="1207.2" stroke="#76D6FF" stroke-width="2.0" />
<line x1="1390.9" y1="1199.2" x2="1400.9" y2="1199.2" stroke="#76D6FF" stroke-width="2.0" />
<line x1="1390.9" y1="1207.2" x2="1400.9" y2="1207.2" stroke="#76D6FF" stroke-width="2.0" />
<line x1="1419.0" y1="1186.4" x2="1419.0" y2="1193.4" stroke="#76D6FF" stroke-width="2.0" />
<line x1="1414.0" y1="1186.4" x2="1424.0" y2="1186.4" stroke="#76D6FF" stroke-width="2.0" />
<line x1="1414.0" y1="1193.4" x2="1424.0" y2="1193.4" stroke="#76D6FF" stroke-width="2.0" />
<line x1="1442.1" y1="1172.1" x2="1442.1" y2="1178.1" stroke="#76D6FF" stroke-width="2.0" />
<line x1="1437.1" y1="1172.1" x2="1447.1" y2="1172.1" stroke="#76D6FF" stroke-width="2.0" />
<line x1="1437.1" y1="1178.1" x2="1447.1" y2="1178.1" stroke="#76D6FF" stroke-width="2.0" />
<line x1="1465.1" y1="1160.0" x2="1465.1" y2="1166.0" stroke="#76D6FF" stroke-width="2.0" />
<line x1="1460.1" y1="1160.0" x2="1470.1" y2="1160.0" stroke="#76D6FF" stroke-width="2.0" />
<line x1="1460.1" y1="1166.0" x2="1470.1" y2="1166.0" stroke="#76D6FF" stroke-width="2.0" />
<line x1="1488.2" y1="1147.5" x2="1488.2" y2="1153.5" stroke="#76D6FF" stroke-width="2.0" />
<line x1="1483.2" y1="1147.5" x2="1493.2" y2="1147.5" stroke="#76D6FF" stroke-width="2.0" />
<line x1="1483.2" y1="1153.5" x2="1493.2" y2="1153.5" stroke="#76D6FF" stroke-width="2.0" />
<line x1="1511.3" y1="1136.1" x2="1511.3" y2="1142.1" stroke="#76D6FF" stroke-width="2.0" />
<line x1="1506.3" y1="1136.1" x2="1516.3" y2="1136.1" stroke="#76D6FF" stroke-width="2.0" />
<line x1="1506.3" y1="1142.1" x2="1516.3" y2="1142.1" stroke="#76D6FF" stroke-width="2.0" />
<line x1="1534.4" y1="1127.9" x2="1534.4" y2="1133.9" stroke="#76D6FF" stroke-width="2.0" />
<line x1="1529.4" y1="1127.9" x2="1539.4" y2="1127.9" stroke="#76D6FF" stroke-width="2.0" />
<line x1="1529.4" y1="1133.9" x2="1539.4" y2="1133.9" stroke="#76D6FF" stroke-width="2.0" />
<line x1="1557.5" y1="1118.1" x2="1557.5" y2="1124.1" stroke="#76D6FF" stroke-width="2.0" />
<line x1="1552.5" y1="1118.1" x2="1562.5" y2="1118.1" stroke="#76D6FF" stroke-width="2.0" />
<line x1="1552.5" y1="1124.1" x2="1562.5" y2="1124.1" stroke="#76D6FF" stroke-width="2.0" />
<line x1="1580.5" y1="1109.9" x2="1580.5" y2="1115.9" stroke="#76D6FF" stroke-width="2.0" />
<line x1="1575.5" y1="1109.9" x2="1585.5" y2="1109.9" stroke="#76D6FF" stroke-width="2.0" />
<line x1="1575.5" y1="1115.9" x2="1585.5" y2="1115.9" stroke="#76D6FF" stroke-width="2.0" />
<line x1="1603.6" y1="1100.7" x2="1603.6" y2="1106.7" stroke="#76D6FF" stroke-width="2.0" />
<line x1="1598.6" y1="1100.7" x2="1608.6" y2="1100.7" stroke="#76D6FF" stroke-width="2.0" />
<line x1="1598.6" y1="1106.7" x2="1608.6" y2="1106.7" stroke="#76D6FF" stroke-width="2.0" />
<line x1="1626.7" y1="1096.7" x2="1626.7" y2="1102.7" stroke="#76D6FF" stroke-width="2.0" />
<line x1="1621.7" y1="1096.7" x2="1631.7" y2="1096.7" stroke="#76D6FF" stroke-width="2.0" />
<line x1="1621.7" y1="1102.7" x2="1631.7" y2="1102.7" stroke="#76D6FF" stroke-width="2.0" />
<line x1="1649.8" y1="1090.2" x2="1649.8" y2="1096.2" stroke="#76D6FF" stroke-width="2.0" />
<line x1="1644.8" y1="1090.2" x2="1654.8" y2="1090.2" stroke="#76D6FF" stroke-width="2.0" />
<line x1="1644.8" y1="1096.2" x2="1654.8" y2="1096.2" stroke="#76D6FF" stroke-width="2.0" />
<line x1="1672.9" y1="1085.2" x2="1672.9" y2="1091.2" stroke="#76D6FF" stroke-width="2.0" />
<line x1="1667.9" y1="1085.2" x2="1677.9" y2="1085.2" stroke="#76D6FF" stroke-width="2.0" />
<line x1="1667.9" y1="1091.2" x2="1677.9" y2="1091.2" stroke="#76D6FF" stroke-width="2.0" />
<line x1="1695.9" y1="1080.8" x2="1695.9" y2="1087.8" stroke="#76D6FF" stroke-width="2.0" />
<line x1="1690.9" y1="1080.8" x2="1700.9" y2="1080.8" stroke="#76D6FF" stroke-width="2.0" />
<line x1="1690.9" y1="1087.8" x2="1700.9" y2="1087.8" stroke="#76D6FF" stroke-width="2.0" />
<line x1="1719.0" y1="1075.4" x2="1719.0" y2="1083.4" stroke="#76D6FF" stroke-width="2.0" />
<line x1="1714.0" y1="1075.4" x2="1724.0" y2="1075.4" stroke="#76D6FF" stroke-width="2.0" />
<line x1="1714.0" y1="1083.4" x2="1724.0" y2="1083.4" stroke="#76D6FF" stroke-width="2.0" />
<polyline points="1049.7,1310.0 1072.8,1310.0 1095.9,1310.0 1118.9,1310.0 1142.0,1310.0 1165.1,1310.0 1188.2,1310.0 1211.3,1310.0 1234.3,1310.0 1257.4,1306.7 1280.5,1300.4 1303.6,1286.5 1326.7,1266.6 1349.7,1244.4 1372.8,1224.5 1395.9,1203.2 1419.0,1189.9 1442.1,1175.1 1465.1,1163.0 1488.2,1150.5 1511.3,1139.1 1534.4,1130.9 1557.5,1121.1 1580.5,1112.9 1603.6,1103.7 1626.7,1099.7 1649.8,1093.2 1672.9,1088.2 1695.9,1084.3 1719.0,1079.4" fill="none" stroke="#76D6FF" stroke-width="2.8" stroke-linejoin="round"/>
<path d="M1044.5,1316.1 L1054.9,1316.1 L1049.7,1303.8Z" fill="#76D6FF"/>
<path d="M1067.6,1316.1 L1078.0,1316.1 L1072.8,1303.8Z" fill="#76D6FF"/>
<path d="M1090.7,1316.1 L1101.1,1316.1 L1095.9,1303.8Z" fill="#76D6FF"/>
<path d="M1113.7,1316.1 L1124.1,1316.1 L1118.9,1303.8Z" fill="#76D6FF"/>
<path d="M1136.8,1316.1 L1147.2,1316.1 L1142.0,1303.8Z" fill="#76D6FF"/>
<path d="M1159.9,1316.1 L1170.3,1316.1 L1165.1,1303.8Z" fill="#76D6FF"/>
<path d="M1183.0,1316.1 L1193.4,1316.1 L1188.2,1303.8Z" fill="#76D6FF"/>
<path d="M1206.1,1316.1 L1216.5,1316.1 L1211.3,1303.8Z" fill="#76D6FF"/>
<path d="M1229.1,1316.1 L1239.5,1316.1 L1234.3,1303.8Z" fill="#76D6FF"/>
<path d="M1252.2,1312.8 L1262.6,1312.8 L1257.4,1300.5Z" fill="#76D6FF"/>
<path d="M1275.3,1306.5 L1285.7,1306.5 L1280.5,1294.2Z" fill="#76D6FF"/>
<path d="M1298.4,1292.6 L1308.8,1292.6 L1303.6,1280.3Z" fill="#76D6FF"/>
<path d="M1321.5,1272.7 L1331.9,1272.7 L1326.7,1260.4Z" fill="#76D6FF"/>
<path d="M1344.5,1250.5 L1354.9,1250.5 L1349.7,1238.2Z" fill="#76D6FF"/>
<path d="M1367.6,1230.6 L1378.0,1230.6 L1372.8,1218.3Z" fill="#76D6FF"/>
<path d="M1390.7,1209.3 L1401.1,1209.3 L1395.9,1197.0Z" fill="#76D6FF"/>
<path d="M1413.8,1196.0 L1424.2,1196.0 L1419.0,1183.7Z" fill="#76D6FF"/>
<path d="M1436.9,1181.2 L1447.3,1181.2 L1442.1,1168.9Z" fill="#76D6FF"/>
<path d="M1459.9,1169.1 L1470.3,1169.1 L1465.1,1156.8Z" fill="#76D6FF"/>
<path d="M1483.0,1156.6 L1493.4,1156.6 L1488.2,1144.3Z" fill="#76D6FF"/>
<path d="M1506.1,1145.2 L1516.5,1145.2 L1511.3,1132.9Z" fill="#76D6FF"/>
<path d="M1529.2,1137.0 L1539.6,1137.0 L1534.4,1124.7Z" fill="#76D6FF"/>
<path d="M1552.3,1127.2 L1562.7,1127.2 L1557.5,1114.9Z" fill="#76D6FF"/>
<path d="M1575.3,1119.0 L1585.7,1119.0 L1580.5,1106.7Z" fill="#76D6FF"/>
<path d="M1598.4,1109.8 L1608.8,1109.8 L1603.6,1097.5Z" fill="#76D6FF"/>
<path d="M1621.5,1105.8 L1631.9,1105.8 L1626.7,1093.5Z" fill="#76D6FF"/>
<path d="M1644.6,1099.3 L1655.0,1099.3 L1649.8,1087.0Z" fill="#76D6FF"/>
<path d="M1667.7,1094.3 L1678.1,1094.3 L1672.9,1082.0Z" fill="#76D6FF"/>
<path d="M1690.7,1090.4 L1701.1,1090.4 L1695.9,1078.1Z" fill="#76D6FF"/>
<path d="M1713.8,1085.5 L1724.2,1085.5 L1719.0,1073.2Z" fill="#76D6FF"/>
<line x1="1049.7" y1="1320.2" x2="1049.7" y2="1324.6" stroke="#FF2600" stroke-width="2.0" />
<line x1="1045.2" y1="1320.2" x2="1054.2" y2="1320.2" stroke="#FF2600" stroke-width="2.0" />
<line x1="1045.2" y1="1324.6" x2="1054.2" y2="1324.6" stroke="#FF2600" stroke-width="2.0" />
<line x1="1072.8" y1="1319.3" x2="1072.8" y2="1323.7" stroke="#FF2600" stroke-width="2.0" />
<line x1="1068.3" y1="1319.3" x2="1077.3" y2="1319.3" stroke="#FF2600" stroke-width="2.0" />
<line x1="1068.3" y1="1323.7" x2="1077.3" y2="1323.7" stroke="#FF2600" stroke-width="2.0" />
<line x1="1095.9" y1="1309.3" x2="1095.9" y2="1313.7" stroke="#FF2600" stroke-width="2.0" />
<line x1="1091.4" y1="1309.3" x2="1100.4" y2="1309.3" stroke="#FF2600" stroke-width="2.0" />
<line x1="1091.4" y1="1313.7" x2="1100.4" y2="1313.7" stroke="#FF2600" stroke-width="2.0" />
<line x1="1118.9" y1="1309.4" x2="1118.9" y2="1313.8" stroke="#FF2600" stroke-width="2.0" />
<line x1="1114.4" y1="1309.4" x2="1123.4" y2="1309.4" stroke="#FF2600" stroke-width="2.0" />
<line x1="1114.4" y1="1313.8" x2="1123.4" y2="1313.8" stroke="#FF2600" stroke-width="2.0" />
<line x1="1142.0" y1="1309.5" x2="1142.0" y2="1313.9" stroke="#FF2600" stroke-width="2.0" />
<line x1="1137.5" y1="1309.5" x2="1146.5" y2="1309.5" stroke="#FF2600" stroke-width="2.0" />
<line x1="1137.5" y1="1313.9" x2="1146.5" y2="1313.9" stroke="#FF2600" stroke-width="2.0" />
<line x1="1165.1" y1="1309.6" x2="1165.1" y2="1314.0" stroke="#FF2600" stroke-width="2.0" />
<line x1="1160.6" y1="1309.6" x2="1169.6" y2="1309.6" stroke="#FF2600" stroke-width="2.0" />
<line x1="1160.6" y1="1314.0" x2="1169.6" y2="1314.0" stroke="#FF2600" stroke-width="2.0" />
<line x1="1188.2" y1="1309.8" x2="1188.2" y2="1314.2" stroke="#FF2600" stroke-width="2.0" />
<line x1="1183.7" y1="1309.8" x2="1192.7" y2="1309.8" stroke="#FF2600" stroke-width="2.0" />
<line x1="1183.7" y1="1314.2" x2="1192.7" y2="1314.2" stroke="#FF2600" stroke-width="2.0" />
<line x1="1211.3" y1="1310.0" x2="1211.3" y2="1314.4" stroke="#FF2600" stroke-width="2.0" />
<line x1="1206.8" y1="1310.0" x2="1215.8" y2="1310.0" stroke="#FF2600" stroke-width="2.0" />
<line x1="1206.8" y1="1314.4" x2="1215.8" y2="1314.4" stroke="#FF2600" stroke-width="2.0" />
<line x1="1234.3" y1="1310.1" x2="1234.3" y2="1314.5" stroke="#FF2600" stroke-width="2.0" />
<line x1="1229.8" y1="1310.1" x2="1238.8" y2="1310.1" stroke="#FF2600" stroke-width="2.0" />
<line x1="1229.8" y1="1314.5" x2="1238.8" y2="1314.5" stroke="#FF2600" stroke-width="2.0" />
<line x1="1257.4" y1="1310.1" x2="1257.4" y2="1314.5" stroke="#FF2600" stroke-width="2.0" />
<line x1="1252.9" y1="1310.1" x2="1261.9" y2="1310.1" stroke="#FF2600" stroke-width="2.0" />
<line x1="1252.9" y1="1314.5" x2="1261.9" y2="1314.5" stroke="#FF2600" stroke-width="2.0" />
<line x1="1280.5" y1="1309.2" x2="1280.5" y2="1313.6" stroke="#FF2600" stroke-width="2.0" />
<line x1="1276.0" y1="1309.2" x2="1285.0" y2="1309.2" stroke="#FF2600" stroke-width="2.0" />
<line x1="1276.0" y1="1313.6" x2="1285.0" y2="1313.6" stroke="#FF2600" stroke-width="2.0" />
<line x1="1303.6" y1="1308.8" x2="1303.6" y2="1313.2" stroke="#FF2600" stroke-width="2.0" />
<line x1="1299.1" y1="1308.8" x2="1308.1" y2="1308.8" stroke="#FF2600" stroke-width="2.0" />
<line x1="1299.1" y1="1313.2" x2="1308.1" y2="1313.2" stroke="#FF2600" stroke-width="2.0" />
<line x1="1326.7" y1="1308.6" x2="1326.7" y2="1313.0" stroke="#FF2600" stroke-width="2.0" />
<line x1="1322.2" y1="1308.6" x2="1331.2" y2="1308.6" stroke="#FF2600" stroke-width="2.0" />
<line x1="1322.2" y1="1313.0" x2="1331.2" y2="1313.0" stroke="#FF2600" stroke-width="2.0" />
<line x1="1349.7" y1="1308.4" x2="1349.7" y2="1312.8" stroke="#FF2600" stroke-width="2.0" />
<line x1="1345.2" y1="1308.4" x2="1354.2" y2="1308.4" stroke="#FF2600" stroke-width="2.0" />
<line x1="1345.2" y1="1312.8" x2="1354.2" y2="1312.8" stroke="#FF2600" stroke-width="2.0" />
<line x1="1372.8" y1="1308.3" x2="1372.8" y2="1312.7" stroke="#FF2600" stroke-width="2.0" />
<line x1="1368.3" y1="1308.3" x2="1377.3" y2="1308.3" stroke="#FF2600" stroke-width="2.0" />
<line x1="1368.3" y1="1312.7" x2="1377.3" y2="1312.7" stroke="#FF2600" stroke-width="2.0" />
<line x1="1395.9" y1="1308.2" x2="1395.9" y2="1312.6" stroke="#FF2600" stroke-width="2.0" />
<line x1="1391.4" y1="1308.2" x2="1400.4" y2="1308.2" stroke="#FF2600" stroke-width="2.0" />
<line x1="1391.4" y1="1312.6" x2="1400.4" y2="1312.6" stroke="#FF2600" stroke-width="2.0" />
<line x1="1419.0" y1="1308.2" x2="1419.0" y2="1312.6" stroke="#FF2600" stroke-width="2.0" />
<line x1="1414.5" y1="1308.2" x2="1423.5" y2="1308.2" stroke="#FF2600" stroke-width="2.0" />
<line x1="1414.5" y1="1312.6" x2="1423.5" y2="1312.6" stroke="#FF2600" stroke-width="2.0" />
<line x1="1442.1" y1="1308.2" x2="1442.1" y2="1312.6" stroke="#FF2600" stroke-width="2.0" />
<line x1="1437.6" y1="1308.2" x2="1446.6" y2="1308.2" stroke="#FF2600" stroke-width="2.0" />
<line x1="1437.6" y1="1312.6" x2="1446.6" y2="1312.6" stroke="#FF2600" stroke-width="2.0" />
<line x1="1465.1" y1="1308.2" x2="1465.1" y2="1312.6" stroke="#FF2600" stroke-width="2.0" />
<line x1="1460.6" y1="1308.2" x2="1469.6" y2="1308.2" stroke="#FF2600" stroke-width="2.0" />
<line x1="1460.6" y1="1312.6" x2="1469.6" y2="1312.6" stroke="#FF2600" stroke-width="2.0" />
<line x1="1488.2" y1="1308.2" x2="1488.2" y2="1312.6" stroke="#FF2600" stroke-width="2.0" />
<line x1="1483.7" y1="1308.2" x2="1492.7" y2="1308.2" stroke="#FF2600" stroke-width="2.0" />
<line x1="1483.7" y1="1312.6" x2="1492.7" y2="1312.6" stroke="#FF2600" stroke-width="2.0" />
<line x1="1511.3" y1="1308.2" x2="1511.3" y2="1312.6" stroke="#FF2600" stroke-width="2.0" />
<line x1="1506.8" y1="1308.2" x2="1515.8" y2="1308.2" stroke="#FF2600" stroke-width="2.0" />
<line x1="1506.8" y1="1312.6" x2="1515.8" y2="1312.6" stroke="#FF2600" stroke-width="2.0" />
<line x1="1534.4" y1="1308.2" x2="1534.4" y2="1312.6" stroke="#FF2600" stroke-width="2.0" />
<line x1="1529.9" y1="1308.2" x2="1538.9" y2="1308.2" stroke="#FF2600" stroke-width="2.0" />
<line x1="1529.9" y1="1312.6" x2="1538.9" y2="1312.6" stroke="#FF2600" stroke-width="2.0" />
<line x1="1557.5" y1="1308.2" x2="1557.5" y2="1312.6" stroke="#FF2600" stroke-width="2.0" />
<line x1="1553.0" y1="1308.2" x2="1562.0" y2="1308.2" stroke="#FF2600" stroke-width="2.0" />
<line x1="1553.0" y1="1312.6" x2="1562.0" y2="1312.6" stroke="#FF2600" stroke-width="2.0" />
<line x1="1580.5" y1="1308.2" x2="1580.5" y2="1312.6" stroke="#FF2600" stroke-width="2.0" />
<line x1="1576.0" y1="1308.2" x2="1585.0" y2="1308.2" stroke="#FF2600" stroke-width="2.0" />
<line x1="1576.0" y1="1312.6" x2="1585.0" y2="1312.6" stroke="#FF2600" stroke-width="2.0" />
<line x1="1603.6" y1="1311.1" x2="1603.6" y2="1315.5" stroke="#FF2600" stroke-width="2.0" />
<line x1="1599.1" y1="1311.1" x2="1608.1" y2="1311.1" stroke="#FF2600" stroke-width="2.0" />
<line x1="1599.1" y1="1315.5" x2="1608.1" y2="1315.5" stroke="#FF2600" stroke-width="2.0" />
<line x1="1626.7" y1="1308.2" x2="1626.7" y2="1312.6" stroke="#FF2600" stroke-width="2.0" />
<line x1="1622.2" y1="1308.2" x2="1631.2" y2="1308.2" stroke="#FF2600" stroke-width="2.0" />
<line x1="1622.2" y1="1312.6" x2="1631.2" y2="1312.6" stroke="#FF2600" stroke-width="2.0" />
<line x1="1649.8" y1="1308.2" x2="1649.8" y2="1312.6" stroke="#FF2600" stroke-width="2.0" />
<line x1="1645.3" y1="1308.2" x2="1654.3" y2="1308.2" stroke="#FF2600" stroke-width="2.0" />
<line x1="1645.3" y1="1312.6" x2="1654.3" y2="1312.6" stroke="#FF2600" stroke-width="2.0" />
<line x1="1672.9" y1="1308.2" x2="1672.9" y2="1312.6" stroke="#FF2600" stroke-width="2.0" />
<line x1="1668.4" y1="1308.2" x2="1677.4" y2="1308.2" stroke="#FF2600" stroke-width="2.0" />
<line x1="1668.4" y1="1312.6" x2="1677.4" y2="1312.6" stroke="#FF2600" stroke-width="2.0" />
<line x1="1695.9" y1="1308.2" x2="1695.9" y2="1312.6" stroke="#FF2600" stroke-width="2.0" />
<line x1="1691.4" y1="1308.2" x2="1700.4" y2="1308.2" stroke="#FF2600" stroke-width="2.0" />
<line x1="1691.4" y1="1312.6" x2="1700.4" y2="1312.6" stroke="#FF2600" stroke-width="2.0" />
<line x1="1719.0" y1="1308.2" x2="1719.0" y2="1312.6" stroke="#FF2600" stroke-width="2.0" />
<line x1="1714.5" y1="1308.2" x2="1723.5" y2="1308.2" stroke="#FF2600" stroke-width="2.0" />
<line x1="1714.5" y1="1312.6" x2="1723.5" y2="1312.6" stroke="#FF2600" stroke-width="2.0" />
<polyline points="1049.7,1322.4 1072.8,1321.5 1095.9,1311.5 1118.9,1311.6 1142.0,1311.7 1165.1,1311.8 1188.2,1312.0 1211.3,1312.2 1234.3,1312.3 1257.4,1312.3 1280.5,1311.4 1303.6,1311.0 1326.7,1310.8 1349.7,1310.6 1372.8,1310.5 1395.9,1310.4 1419.0,1310.4 1442.1,1310.4 1465.1,1310.4 1488.2,1310.4 1511.3,1310.4 1534.4,1310.4 1557.5,1310.4 1580.5,1310.4 1603.6,1313.3 1626.7,1310.4 1649.8,1310.4 1672.9,1310.4 1695.9,1310.4 1719.0,1310.4" fill="none" stroke="#FF2600" stroke-width="2.8" stroke-linejoin="round"/>
<path d="M1044.5,1316.3 L1054.9,1316.3 L1049.7,1328.6Z" fill="#FF2600"/>
<path d="M1067.6,1315.4 L1078.0,1315.4 L1072.8,1327.7Z" fill="#FF2600"/>
<path d="M1090.7,1305.4 L1101.1,1305.4 L1095.9,1317.7Z" fill="#FF2600"/>
<path d="M1113.7,1305.5 L1124.1,1305.5 L1118.9,1317.8Z" fill="#FF2600"/>
<path d="M1136.8,1305.6 L1147.2,1305.6 L1142.0,1317.9Z" fill="#FF2600"/>
<path d="M1159.9,1305.7 L1170.3,1305.7 L1165.1,1318.0Z" fill="#FF2600"/>
<path d="M1183.0,1305.9 L1193.4,1305.9 L1188.2,1318.2Z" fill="#FF2600"/>
<path d="M1206.1,1306.1 L1216.5,1306.1 L1211.3,1318.4Z" fill="#FF2600"/>
<path d="M1229.1,1306.2 L1239.5,1306.2 L1234.3,1318.5Z" fill="#FF2600"/>
<path d="M1252.2,1306.2 L1262.6,1306.2 L1257.4,1318.5Z" fill="#FF2600"/>
<path d="M1275.3,1305.3 L1285.7,1305.3 L1280.5,1317.6Z" fill="#FF2600"/>
<path d="M1298.4,1304.9 L1308.8,1304.9 L1303.6,1317.2Z" fill="#FF2600"/>
<path d="M1321.5,1304.7 L1331.9,1304.7 L1326.7,1317.0Z" fill="#FF2600"/>
<path d="M1344.5,1304.5 L1354.9,1304.5 L1349.7,1316.8Z" fill="#FF2600"/>
<path d="M1367.6,1304.4 L1378.0,1304.4 L1372.8,1316.7Z" fill="#FF2600"/>
<path d="M1390.7,1304.3 L1401.1,1304.3 L1395.9,1316.6Z" fill="#FF2600"/>
<path d="M1413.8,1304.3 L1424.2,1304.3 L1419.0,1316.6Z" fill="#FF2600"/>
<path d="M1436.9,1304.3 L1447.3,1304.3 L1442.1,1316.6Z" fill="#FF2600"/>
<path d="M1459.9,1304.3 L1470.3,1304.3 L1465.1,1316.6Z" fill="#FF2600"/>
<path d="M1483.0,1304.3 L1493.4,1304.3 L1488.2,1316.6Z" fill="#FF2600"/>
<path d="M1506.1,1304.3 L1516.5,1304.3 L1511.3,1316.6Z" fill="#FF2600"/>
<path d="M1529.2,1304.3 L1539.6,1304.3 L1534.4,1316.6Z" fill="#FF2600"/>
<path d="M1552.3,1304.3 L1562.7,1304.3 L1557.5,1316.6Z" fill="#FF2600"/>
<path d="M1575.3,1304.3 L1585.7,1304.3 L1580.5,1316.6Z" fill="#FF2600"/>
<path d="M1598.4,1307.2 L1608.8,1307.2 L1603.6,1319.5Z" fill="#FF2600"/>
<path d="M1621.5,1304.3 L1631.9,1304.3 L1626.7,1316.6Z" fill="#FF2600"/>
<path d="M1644.6,1304.3 L1655.0,1304.3 L1649.8,1316.6Z" fill="#FF2600"/>
<path d="M1667.7,1304.3 L1678.1,1304.3 L1672.9,1316.6Z" fill="#FF2600"/>
<path d="M1690.7,1304.3 L1701.1,1304.3 L1695.9,1316.6Z" fill="#FF2600"/>
<path d="M1713.8,1304.3 L1724.2,1304.3 L1719.0,1316.6Z" fill="#FF2600"/>
<line x1="1049.7" y1="1311.8" x2="1049.7" y2="1321.8" stroke="#FF9300" stroke-width="2.3" />
<line x1="1044.2" y1="1311.8" x2="1055.2" y2="1311.8" stroke="#FF9300" stroke-width="2.3" />
<line x1="1044.2" y1="1321.8" x2="1055.2" y2="1321.8" stroke="#FF9300" stroke-width="2.3" />
<line x1="1072.8" y1="1310.6" x2="1072.8" y2="1320.6" stroke="#FF9300" stroke-width="2.3" />
<line x1="1067.3" y1="1310.6" x2="1078.3" y2="1310.6" stroke="#FF9300" stroke-width="2.3" />
<line x1="1067.3" y1="1320.6" x2="1078.3" y2="1320.6" stroke="#FF9300" stroke-width="2.3" />
<line x1="1095.9" y1="1307.3" x2="1095.9" y2="1317.3" stroke="#FF9300" stroke-width="2.3" />
<line x1="1090.4" y1="1307.3" x2="1101.4" y2="1307.3" stroke="#FF9300" stroke-width="2.3" />
<line x1="1090.4" y1="1317.3" x2="1101.4" y2="1317.3" stroke="#FF9300" stroke-width="2.3" />
<line x1="1118.9" y1="1306.6" x2="1118.9" y2="1316.6" stroke="#FF9300" stroke-width="2.3" />
<line x1="1113.4" y1="1306.6" x2="1124.4" y2="1306.6" stroke="#FF9300" stroke-width="2.3" />
<line x1="1113.4" y1="1316.6" x2="1124.4" y2="1316.6" stroke="#FF9300" stroke-width="2.3" />
<line x1="1142.0" y1="1305.7" x2="1142.0" y2="1315.7" stroke="#FF9300" stroke-width="2.3" />
<line x1="1136.5" y1="1305.7" x2="1147.5" y2="1305.7" stroke="#FF9300" stroke-width="2.3" />
<line x1="1136.5" y1="1315.7" x2="1147.5" y2="1315.7" stroke="#FF9300" stroke-width="2.3" />
<line x1="1165.1" y1="1299.4" x2="1165.1" y2="1309.4" stroke="#FF9300" stroke-width="2.3" />
<line x1="1159.6" y1="1299.4" x2="1170.6" y2="1299.4" stroke="#FF9300" stroke-width="2.3" />
<line x1="1159.6" y1="1309.4" x2="1170.6" y2="1309.4" stroke="#FF9300" stroke-width="2.3" />
<line x1="1188.2" y1="1289.0" x2="1188.2" y2="1302.0" stroke="#FF9300" stroke-width="2.3" />
<line x1="1182.7" y1="1289.0" x2="1193.7" y2="1289.0" stroke="#FF9300" stroke-width="2.3" />
<line x1="1182.7" y1="1302.0" x2="1193.7" y2="1302.0" stroke="#FF9300" stroke-width="2.3" />
<line x1="1211.3" y1="1268.0" x2="1211.3" y2="1285.0" stroke="#FF9300" stroke-width="2.3" />
<line x1="1205.8" y1="1268.0" x2="1216.8" y2="1268.0" stroke="#FF9300" stroke-width="2.3" />
<line x1="1205.8" y1="1285.0" x2="1216.8" y2="1285.0" stroke="#FF9300" stroke-width="2.3" />
<line x1="1234.3" y1="1240.5" x2="1234.3" y2="1264.5" stroke="#FF9300" stroke-width="2.3" />
<line x1="1228.8" y1="1240.5" x2="1239.8" y2="1240.5" stroke="#FF9300" stroke-width="2.3" />
<line x1="1228.8" y1="1264.5" x2="1239.8" y2="1264.5" stroke="#FF9300" stroke-width="2.3" />
<line x1="1257.4" y1="1208.9" x2="1257.4" y2="1237.9" stroke="#FF9300" stroke-width="2.3" />
<line x1="1251.9" y1="1208.9" x2="1262.9" y2="1208.9" stroke="#FF9300" stroke-width="2.3" />
<line x1="1251.9" y1="1237.9" x2="1262.9" y2="1237.9" stroke="#FF9300" stroke-width="2.3" />
<line x1="1280.5" y1="1171.2" x2="1280.5" y2="1207.2" stroke="#FF9300" stroke-width="2.3" />
<line x1="1275.0" y1="1171.2" x2="1286.0" y2="1171.2" stroke="#FF9300" stroke-width="2.3" />
<line x1="1275.0" y1="1207.2" x2="1286.0" y2="1207.2" stroke="#FF9300" stroke-width="2.3" />
<line x1="1303.6" y1="1126.2" x2="1303.6" y2="1178.2" stroke="#FF9300" stroke-width="2.3" />
<line x1="1298.1" y1="1126.2" x2="1309.1" y2="1126.2" stroke="#FF9300" stroke-width="2.3" />
<line x1="1298.1" y1="1178.2" x2="1309.1" y2="1178.2" stroke="#FF9300" stroke-width="2.3" />
<line x1="1326.7" y1="1071.4" x2="1326.7" y2="1144.4" stroke="#FF9300" stroke-width="2.3" />
<line x1="1321.2" y1="1071.4" x2="1332.2" y2="1071.4" stroke="#FF9300" stroke-width="2.3" />
<line x1="1321.2" y1="1144.4" x2="1332.2" y2="1144.4" stroke="#FF9300" stroke-width="2.3" />
<line x1="1349.7" y1="1013.4" x2="1349.7" y2="1104.0" stroke="#FF9300" stroke-width="2.3" />
<line x1="1344.2" y1="1013.4" x2="1355.2" y2="1013.4" stroke="#FF9300" stroke-width="2.3" />
<line x1="1344.2" y1="1104.0" x2="1355.2" y2="1104.0" stroke="#FF9300" stroke-width="2.3" />
<line x1="1372.8" y1="960.7" x2="1372.8" y2="1065.9" stroke="#FF9300" stroke-width="2.3" />
<line x1="1367.3" y1="960.7" x2="1378.3" y2="960.7" stroke="#FF9300" stroke-width="2.3" />
<line x1="1367.3" y1="1065.9" x2="1378.3" y2="1065.9" stroke="#FF9300" stroke-width="2.3" />
<line x1="1395.9" y1="916.4" x2="1395.9" y2="1028.8" stroke="#FF9300" stroke-width="2.3" />
<line x1="1390.4" y1="916.4" x2="1401.4" y2="916.4" stroke="#FF9300" stroke-width="2.3" />
<line x1="1390.4" y1="1028.8" x2="1401.4" y2="1028.8" stroke="#FF9300" stroke-width="2.3" />
<line x1="1419.0" y1="875.2" x2="1419.0" y2="1001.0" stroke="#FF9300" stroke-width="2.3" />
<line x1="1413.5" y1="875.2" x2="1424.5" y2="875.2" stroke="#FF9300" stroke-width="2.3" />
<line x1="1413.5" y1="1001.0" x2="1424.5" y2="1001.0" stroke="#FF9300" stroke-width="2.3" />
<line x1="1442.1" y1="847.1" x2="1442.1" y2="977.9" stroke="#FF9300" stroke-width="2.3" />
<line x1="1436.6" y1="847.1" x2="1447.6" y2="847.1" stroke="#FF9300" stroke-width="2.3" />
<line x1="1436.6" y1="977.9" x2="1447.6" y2="977.9" stroke="#FF9300" stroke-width="2.3" />
<line x1="1465.1" y1="825.9" x2="1465.1" y2="961.5" stroke="#FF9300" stroke-width="2.3" />
<line x1="1459.6" y1="825.9" x2="1470.6" y2="825.9" stroke="#FF9300" stroke-width="2.3" />
<line x1="1459.6" y1="961.5" x2="1470.6" y2="961.5" stroke="#FF9300" stroke-width="2.3" />
<line x1="1488.2" y1="812.0" x2="1488.2" y2="955.2" stroke="#FF9300" stroke-width="2.3" />
<line x1="1482.7" y1="812.0" x2="1493.7" y2="812.0" stroke="#FF9300" stroke-width="2.3" />
<line x1="1482.7" y1="955.2" x2="1493.7" y2="955.2" stroke="#FF9300" stroke-width="2.3" />
<line x1="1511.3" y1="804.1" x2="1511.3" y2="947.3" stroke="#FF9300" stroke-width="2.3" />
<line x1="1505.8" y1="804.1" x2="1516.8" y2="804.1" stroke="#FF9300" stroke-width="2.3" />
<line x1="1505.8" y1="947.3" x2="1516.8" y2="947.3" stroke="#FF9300" stroke-width="2.3" />
<line x1="1534.4" y1="797.5" x2="1534.4" y2="945.9" stroke="#FF9300" stroke-width="2.3" />
<line x1="1528.9" y1="797.5" x2="1539.9" y2="797.5" stroke="#FF9300" stroke-width="2.3" />
<line x1="1528.9" y1="945.9" x2="1539.9" y2="945.9" stroke="#FF9300" stroke-width="2.3" />
<line x1="1557.5" y1="798.8" x2="1557.5" y2="948.0" stroke="#FF9300" stroke-width="2.3" />
<line x1="1552.0" y1="798.8" x2="1563.0" y2="798.8" stroke="#FF9300" stroke-width="2.3" />
<line x1="1552.0" y1="948.0" x2="1563.0" y2="948.0" stroke="#FF9300" stroke-width="2.3" />
<line x1="1580.5" y1="802.5" x2="1580.5" y2="945.5" stroke="#FF9300" stroke-width="2.3" />
<line x1="1575.0" y1="802.5" x2="1586.0" y2="802.5" stroke="#FF9300" stroke-width="2.3" />
<line x1="1575.0" y1="945.5" x2="1586.0" y2="945.5" stroke="#FF9300" stroke-width="2.3" />
<line x1="1603.6" y1="806.2" x2="1603.6" y2="952.4" stroke="#FF9300" stroke-width="2.3" />
<line x1="1598.1" y1="806.2" x2="1609.1" y2="806.2" stroke="#FF9300" stroke-width="2.3" />
<line x1="1598.1" y1="952.4" x2="1609.1" y2="952.4" stroke="#FF9300" stroke-width="2.3" />
<line x1="1626.7" y1="806.8" x2="1626.7" y2="950.4" stroke="#FF9300" stroke-width="2.3" />
<line x1="1621.2" y1="806.8" x2="1632.2" y2="806.8" stroke="#FF9300" stroke-width="2.3" />
<line x1="1621.2" y1="950.4" x2="1632.2" y2="950.4" stroke="#FF9300" stroke-width="2.3" />
<line x1="1649.8" y1="811.4" x2="1649.8" y2="954.4" stroke="#FF9300" stroke-width="2.3" />
<line x1="1644.3" y1="811.4" x2="1655.3" y2="811.4" stroke="#FF9300" stroke-width="2.3" />
<line x1="1644.3" y1="954.4" x2="1655.3" y2="954.4" stroke="#FF9300" stroke-width="2.3" />
<line x1="1672.9" y1="818.0" x2="1672.9" y2="957.0" stroke="#FF9300" stroke-width="2.3" />
<line x1="1667.4" y1="818.0" x2="1678.4" y2="818.0" stroke="#FF9300" stroke-width="2.3" />
<line x1="1667.4" y1="957.0" x2="1678.4" y2="957.0" stroke="#FF9300" stroke-width="2.3" />
<line x1="1695.9" y1="819.3" x2="1695.9" y2="958.9" stroke="#FF9300" stroke-width="2.3" />
<line x1="1690.4" y1="819.3" x2="1701.4" y2="819.3" stroke="#FF9300" stroke-width="2.3" />
<line x1="1690.4" y1="958.9" x2="1701.4" y2="958.9" stroke="#FF9300" stroke-width="2.3" />
<line x1="1719.0" y1="822.6" x2="1719.0" y2="963.6" stroke="#FF9300" stroke-width="2.3" />
<line x1="1713.5" y1="822.6" x2="1724.5" y2="822.6" stroke="#FF9300" stroke-width="2.3" />
<line x1="1713.5" y1="963.6" x2="1724.5" y2="963.6" stroke="#FF9300" stroke-width="2.3" />
<polyline points="1049.7,1316.8 1072.8,1315.6 1095.9,1312.3 1118.9,1311.6 1142.0,1310.7 1165.1,1304.4 1188.2,1295.5 1211.3,1276.5 1234.3,1252.5 1257.4,1223.4 1280.5,1189.2 1303.6,1152.2 1326.7,1107.9 1349.7,1058.7 1372.8,1013.3 1395.9,972.6 1419.0,938.1 1442.1,912.5 1465.1,893.7 1488.2,883.6 1511.3,875.7 1534.4,871.7 1557.5,873.4 1580.5,874.0 1603.6,879.3 1626.7,878.6 1649.8,882.9 1672.9,887.5 1695.9,889.1 1719.0,893.1" fill="none" stroke="#FF9300" stroke-width="3.0" stroke-linejoin="round"/>
<path d="M1045.6,1316.8 L1049.7,1310.9 L1053.8,1316.8 L1049.7,1322.7Z" fill="#FF9300"/>
<path d="M1068.7,1315.6 L1072.8,1309.7 L1076.9,1315.6 L1072.8,1321.5Z" fill="#FF9300"/>
<path d="M1091.8,1312.3 L1095.9,1306.4 L1100.0,1312.3 L1095.9,1318.2Z" fill="#FF9300"/>
<path d="M1114.8,1311.6 L1118.9,1305.7 L1123.0,1311.6 L1118.9,1317.5Z" fill="#FF9300"/>
<path d="M1137.9,1310.7 L1142.0,1304.8 L1146.1,1310.7 L1142.0,1316.6Z" fill="#FF9300"/>
<path d="M1161.0,1304.4 L1165.1,1298.5 L1169.2,1304.4 L1165.1,1310.3Z" fill="#FF9300"/>
<path d="M1184.1,1295.5 L1188.2,1289.6 L1192.3,1295.5 L1188.2,1301.4Z" fill="#FF9300"/>
<path d="M1207.2,1276.5 L1211.3,1270.6 L1215.4,1276.5 L1211.3,1282.4Z" fill="#FF9300"/>
<path d="M1230.2,1252.5 L1234.3,1246.6 L1238.4,1252.5 L1234.3,1258.4Z" fill="#FF9300"/>
<path d="M1253.3,1223.4 L1257.4,1217.5 L1261.5,1223.4 L1257.4,1229.3Z" fill="#FF9300"/>
<path d="M1276.4,1189.2 L1280.5,1183.3 L1284.6,1189.2 L1280.5,1195.1Z" fill="#FF9300"/>
<path d="M1299.5,1152.2 L1303.6,1146.3 L1307.7,1152.2 L1303.6,1158.1Z" fill="#FF9300"/>
<path d="M1322.6,1107.9 L1326.7,1102.0 L1330.8,1107.9 L1326.7,1113.8Z" fill="#FF9300"/>
<path d="M1345.6,1058.7 L1349.7,1052.8 L1353.8,1058.7 L1349.7,1064.6Z" fill="#FF9300"/>
<path d="M1368.7,1013.3 L1372.8,1007.4 L1376.9,1013.3 L1372.8,1019.2Z" fill="#FF9300"/>
<path d="M1391.8,972.6 L1395.9,966.7 L1400.0,972.6 L1395.9,978.5Z" fill="#FF9300"/>
<path d="M1414.9,938.1 L1419.0,932.2 L1423.1,938.1 L1419.0,944.0Z" fill="#FF9300"/>
<path d="M1438.0,912.5 L1442.1,906.6 L1446.2,912.5 L1442.1,918.4Z" fill="#FF9300"/>
<path d="M1461.0,893.7 L1465.1,887.8 L1469.2,893.7 L1465.1,899.6Z" fill="#FF9300"/>
<path d="M1484.1,883.6 L1488.2,877.7 L1492.3,883.6 L1488.2,889.5Z" fill="#FF9300"/>
<path d="M1507.2,875.7 L1511.3,869.8 L1515.4,875.7 L1511.3,881.6Z" fill="#FF9300"/>
<path d="M1530.3,871.7 L1534.4,865.8 L1538.5,871.7 L1534.4,877.6Z" fill="#FF9300"/>
<path d="M1553.4,873.4 L1557.5,867.5 L1561.6,873.4 L1557.5,879.3Z" fill="#FF9300"/>
<path d="M1576.4,874.0 L1580.5,868.1 L1584.6,874.0 L1580.5,879.9Z" fill="#FF9300"/>
<path d="M1599.5,879.3 L1603.6,873.4 L1607.7,879.3 L1603.6,885.2Z" fill="#FF9300"/>
<path d="M1622.6,878.6 L1626.7,872.7 L1630.8,878.6 L1626.7,884.5Z" fill="#FF9300"/>
<path d="M1645.7,882.9 L1649.8,877.0 L1653.9,882.9 L1649.8,888.8Z" fill="#FF9300"/>
<path d="M1668.8,887.5 L1672.9,881.6 L1677.0,887.5 L1672.9,893.4Z" fill="#FF9300"/>
<path d="M1691.8,889.1 L1695.9,883.2 L1700.0,889.1 L1695.9,895.0Z" fill="#FF9300"/>
<path d="M1714.9,893.1 L1719.0,887.2 L1723.1,893.1 L1719.0,899.0Z" fill="#FF9300"/>
<line x1="1049.7" y1="1306.0" x2="1049.7" y2="1314.0" stroke="#FF7E79" stroke-width="2.1" />
<line x1="1044.2" y1="1306.0" x2="1055.2" y2="1306.0" stroke="#FF7E79" stroke-width="2.1" />
<line x1="1044.2" y1="1314.0" x2="1055.2" y2="1314.0" stroke="#FF7E79" stroke-width="2.1" />
<line x1="1072.8" y1="1306.0" x2="1072.8" y2="1314.0" stroke="#FF7E79" stroke-width="2.1" />
<line x1="1067.3" y1="1306.0" x2="1078.3" y2="1306.0" stroke="#FF7E79" stroke-width="2.1" />
<line x1="1067.3" y1="1314.0" x2="1078.3" y2="1314.0" stroke="#FF7E79" stroke-width="2.1" />
<line x1="1095.9" y1="1307.0" x2="1095.9" y2="1314.0" stroke="#FF7E79" stroke-width="2.1" />
<line x1="1090.4" y1="1307.0" x2="1101.4" y2="1307.0" stroke="#FF7E79" stroke-width="2.1" />
<line x1="1090.4" y1="1314.0" x2="1101.4" y2="1314.0" stroke="#FF7E79" stroke-width="2.1" />
<line x1="1118.9" y1="1308.0" x2="1118.9" y2="1314.0" stroke="#FF7E79" stroke-width="2.1" />
<line x1="1113.4" y1="1308.0" x2="1124.4" y2="1308.0" stroke="#FF7E79" stroke-width="2.1" />
<line x1="1113.4" y1="1314.0" x2="1124.4" y2="1314.0" stroke="#FF7E79" stroke-width="2.1" />
<line x1="1142.0" y1="1308.0" x2="1142.0" y2="1314.0" stroke="#FF7E79" stroke-width="2.1" />
<line x1="1136.5" y1="1308.0" x2="1147.5" y2="1308.0" stroke="#FF7E79" stroke-width="2.1" />
<line x1="1136.5" y1="1314.0" x2="1147.5" y2="1314.0" stroke="#FF7E79" stroke-width="2.1" />
<line x1="1165.1" y1="1307.0" x2="1165.1" y2="1313.0" stroke="#FF7E79" stroke-width="2.1" />
<line x1="1159.6" y1="1307.0" x2="1170.6" y2="1307.0" stroke="#FF7E79" stroke-width="2.1" />
<line x1="1159.6" y1="1313.0" x2="1170.6" y2="1313.0" stroke="#FF7E79" stroke-width="2.1" />
<line x1="1188.2" y1="1304.8" x2="1188.2" y2="1310.8" stroke="#FF7E79" stroke-width="2.1" />
<line x1="1182.7" y1="1304.8" x2="1193.7" y2="1304.8" stroke="#FF7E79" stroke-width="2.1" />
<line x1="1182.7" y1="1310.8" x2="1193.7" y2="1310.8" stroke="#FF7E79" stroke-width="2.1" />
<line x1="1211.3" y1="1297.2" x2="1211.3" y2="1303.2" stroke="#FF7E79" stroke-width="2.1" />
<line x1="1205.8" y1="1297.2" x2="1216.8" y2="1297.2" stroke="#FF7E79" stroke-width="2.1" />
<line x1="1205.8" y1="1303.2" x2="1216.8" y2="1303.2" stroke="#FF7E79" stroke-width="2.1" />
<line x1="1234.3" y1="1291.5" x2="1234.3" y2="1297.5" stroke="#FF7E79" stroke-width="2.1" />
<line x1="1228.8" y1="1291.5" x2="1239.8" y2="1291.5" stroke="#FF7E79" stroke-width="2.1" />
<line x1="1228.8" y1="1297.5" x2="1239.8" y2="1297.5" stroke="#FF7E79" stroke-width="2.1" />
<line x1="1257.4" y1="1279.5" x2="1257.4" y2="1285.5" stroke="#FF7E79" stroke-width="2.1" />
<line x1="1251.9" y1="1279.5" x2="1262.9" y2="1279.5" stroke="#FF7E79" stroke-width="2.1" />
<line x1="1251.9" y1="1285.5" x2="1262.9" y2="1285.5" stroke="#FF7E79" stroke-width="2.1" />
<line x1="1280.5" y1="1256.5" x2="1280.5" y2="1263.5" stroke="#FF7E79" stroke-width="2.1" />
<line x1="1275.0" y1="1256.5" x2="1286.0" y2="1256.5" stroke="#FF7E79" stroke-width="2.1" />
<line x1="1275.0" y1="1263.5" x2="1286.0" y2="1263.5" stroke="#FF7E79" stroke-width="2.1" />
<line x1="1303.6" y1="1223.2" x2="1303.6" y2="1231.2" stroke="#FF7E79" stroke-width="2.1" />
<line x1="1298.1" y1="1223.2" x2="1309.1" y2="1223.2" stroke="#FF7E79" stroke-width="2.1" />
<line x1="1298.1" y1="1231.2" x2="1309.1" y2="1231.2" stroke="#FF7E79" stroke-width="2.1" />
<line x1="1326.7" y1="1185.4" x2="1326.7" y2="1193.4" stroke="#FF7E79" stroke-width="2.1" />
<line x1="1321.2" y1="1185.4" x2="1332.2" y2="1185.4" stroke="#FF7E79" stroke-width="2.1" />
<line x1="1321.2" y1="1193.4" x2="1332.2" y2="1193.4" stroke="#FF7E79" stroke-width="2.1" />
<line x1="1349.7" y1="1153.9" x2="1349.7" y2="1160.9" stroke="#FF7E79" stroke-width="2.1" />
<line x1="1344.2" y1="1153.9" x2="1355.2" y2="1153.9" stroke="#FF7E79" stroke-width="2.1" />
<line x1="1344.2" y1="1160.9" x2="1355.2" y2="1160.9" stroke="#FF7E79" stroke-width="2.1" />
<line x1="1372.8" y1="1125.5" x2="1372.8" y2="1132.5" stroke="#FF7E79" stroke-width="2.1" />
<line x1="1367.3" y1="1125.5" x2="1378.3" y2="1125.5" stroke="#FF7E79" stroke-width="2.1" />
<line x1="1367.3" y1="1132.5" x2="1378.3" y2="1132.5" stroke="#FF7E79" stroke-width="2.1" />
<line x1="1395.9" y1="1097.3" x2="1395.9" y2="1103.3" stroke="#FF7E79" stroke-width="2.1" />
<line x1="1390.4" y1="1097.3" x2="1401.4" y2="1097.3" stroke="#FF7E79" stroke-width="2.1" />
<line x1="1390.4" y1="1103.3" x2="1401.4" y2="1103.3" stroke="#FF7E79" stroke-width="2.1" />
<line x1="1419.0" y1="1076.0" x2="1419.0" y2="1082.0" stroke="#FF7E79" stroke-width="2.1" />
<line x1="1413.5" y1="1076.0" x2="1424.5" y2="1076.0" stroke="#FF7E79" stroke-width="2.1" />
<line x1="1413.5" y1="1082.0" x2="1424.5" y2="1082.0" stroke="#FF7E79" stroke-width="2.1" />
<line x1="1442.1" y1="1060.0" x2="1442.1" y2="1066.0" stroke="#FF7E79" stroke-width="2.1" />
<line x1="1436.6" y1="1060.0" x2="1447.6" y2="1060.0" stroke="#FF7E79" stroke-width="2.1" />
<line x1="1436.6" y1="1066.0" x2="1447.6" y2="1066.0" stroke="#FF7E79" stroke-width="2.1" />
<line x1="1465.1" y1="1048.8" x2="1465.1" y2="1055.8" stroke="#FF7E79" stroke-width="2.1" />
<line x1="1459.6" y1="1048.8" x2="1470.6" y2="1048.8" stroke="#FF7E79" stroke-width="2.1" />
<line x1="1459.6" y1="1055.8" x2="1470.6" y2="1055.8" stroke="#FF7E79" stroke-width="2.1" />
<line x1="1488.2" y1="1043.4" x2="1488.2" y2="1049.4" stroke="#FF7E79" stroke-width="2.1" />
<line x1="1482.7" y1="1043.4" x2="1493.7" y2="1043.4" stroke="#FF7E79" stroke-width="2.1" />
<line x1="1482.7" y1="1049.4" x2="1493.7" y2="1049.4" stroke="#FF7E79" stroke-width="2.1" />
<line x1="1511.3" y1="1033.3" x2="1511.3" y2="1039.3" stroke="#FF7E79" stroke-width="2.1" />
<line x1="1505.8" y1="1033.3" x2="1516.8" y2="1033.3" stroke="#FF7E79" stroke-width="2.1" />
<line x1="1505.8" y1="1039.3" x2="1516.8" y2="1039.3" stroke="#FF7E79" stroke-width="2.1" />
<line x1="1534.4" y1="1026.4" x2="1534.4" y2="1032.4" stroke="#FF7E79" stroke-width="2.1" />
<line x1="1528.9" y1="1026.4" x2="1539.9" y2="1026.4" stroke="#FF7E79" stroke-width="2.1" />
<line x1="1528.9" y1="1032.4" x2="1539.9" y2="1032.4" stroke="#FF7E79" stroke-width="2.1" />
<line x1="1557.5" y1="1022.8" x2="1557.5" y2="1028.8" stroke="#FF7E79" stroke-width="2.1" />
<line x1="1552.0" y1="1022.8" x2="1563.0" y2="1022.8" stroke="#FF7E79" stroke-width="2.1" />
<line x1="1552.0" y1="1028.8" x2="1563.0" y2="1028.8" stroke="#FF7E79" stroke-width="2.1" />
<line x1="1580.5" y1="1015.7" x2="1580.5" y2="1022.7" stroke="#FF7E79" stroke-width="2.1" />
<line x1="1575.0" y1="1015.7" x2="1586.0" y2="1015.7" stroke="#FF7E79" stroke-width="2.1" />
<line x1="1575.0" y1="1022.7" x2="1586.0" y2="1022.7" stroke="#FF7E79" stroke-width="2.1" />
<line x1="1603.6" y1="1009.7" x2="1603.6" y2="1017.7" stroke="#FF7E79" stroke-width="2.1" />
<line x1="1598.1" y1="1009.7" x2="1609.1" y2="1009.7" stroke="#FF7E79" stroke-width="2.1" />
<line x1="1598.1" y1="1017.7" x2="1609.1" y2="1017.7" stroke="#FF7E79" stroke-width="2.1" />
<line x1="1626.7" y1="1003.9" x2="1626.7" y2="1013.5" stroke="#FF7E79" stroke-width="2.1" />
<line x1="1621.2" y1="1003.9" x2="1632.2" y2="1003.9" stroke="#FF7E79" stroke-width="2.1" />
<line x1="1621.2" y1="1013.5" x2="1632.2" y2="1013.5" stroke="#FF7E79" stroke-width="2.1" />
<line x1="1649.8" y1="1000.7" x2="1649.8" y2="1011.5" stroke="#FF7E79" stroke-width="2.1" />
<line x1="1644.3" y1="1000.7" x2="1655.3" y2="1000.7" stroke="#FF7E79" stroke-width="2.1" />
<line x1="1644.3" y1="1011.5" x2="1655.3" y2="1011.5" stroke="#FF7E79" stroke-width="2.1" />
<line x1="1672.9" y1="998.8" x2="1672.9" y2="1014.8" stroke="#FF7E79" stroke-width="2.1" />
<line x1="1667.4" y1="998.8" x2="1678.4" y2="998.8" stroke="#FF7E79" stroke-width="2.1" />
<line x1="1667.4" y1="1014.8" x2="1678.4" y2="1014.8" stroke="#FF7E79" stroke-width="2.1" />
<line x1="1695.9" y1="997.5" x2="1695.9" y2="1011.5" stroke="#FF7E79" stroke-width="2.1" />
<line x1="1690.4" y1="997.5" x2="1701.4" y2="997.5" stroke="#FF7E79" stroke-width="2.1" />
<line x1="1690.4" y1="1011.5" x2="1701.4" y2="1011.5" stroke="#FF7E79" stroke-width="2.1" />
<line x1="1719.0" y1="993.6" x2="1719.0" y2="1012.6" stroke="#FF7E79" stroke-width="2.1" />
<line x1="1713.5" y1="993.6" x2="1724.5" y2="993.6" stroke="#FF7E79" stroke-width="2.1" />
<line x1="1713.5" y1="1012.6" x2="1724.5" y2="1012.6" stroke="#FF7E79" stroke-width="2.1" />
<polyline points="1049.7,1310.0 1072.8,1310.0 1095.9,1310.5 1118.9,1311.0 1142.0,1311.0 1165.1,1310.0 1188.2,1307.8 1211.3,1300.2 1234.3,1294.5 1257.4,1282.5 1280.5,1260.0 1303.6,1227.2 1326.7,1189.4 1349.7,1157.4 1372.8,1129.0 1395.9,1100.3 1419.0,1079.0 1442.1,1063.0 1465.1,1052.3 1488.2,1046.4 1511.3,1036.3 1534.4,1029.4 1557.5,1025.8 1580.5,1019.2 1603.6,1013.7 1626.7,1008.7 1649.8,1006.1 1672.9,1006.8 1695.9,1004.5 1719.0,1003.1" fill="none" stroke="#FF7E79" stroke-width="2.8" stroke-linejoin="round"/>
<circle cx="1049.7" cy="1310.0" r="5.6" fill="#FF7E79"/>
<circle cx="1072.8" cy="1310.0" r="5.6" fill="#FF7E79"/>
<circle cx="1095.9" cy="1310.5" r="5.6" fill="#FF7E79"/>
<circle cx="1118.9" cy="1311.0" r="5.6" fill="#FF7E79"/>
<circle cx="1142.0" cy="1311.0" r="5.6" fill="#FF7E79"/>
<circle cx="1165.1" cy="1310.0" r="5.6" fill="#FF7E79"/>
<circle cx="1188.2" cy="1307.8" r="5.6" fill="#FF7E79"/>
<circle cx="1211.3" cy="1300.2" r="5.6" fill="#FF7E79"/>
<circle cx="1234.3" cy="1294.5" r="5.6" fill="#FF7E79"/>
<circle cx="1257.4" cy="1282.5" r="5.6" fill="#FF7E79"/>
<circle cx="1280.5" cy="1260.0" r="5.6" fill="#FF7E79"/>
<circle cx="1303.6" cy="1227.2" r="5.6" fill="#FF7E79"/>
<circle cx="1326.7" cy="1189.4" r="5.6" fill="#FF7E79"/>
<circle cx="1349.7" cy="1157.4" r="5.6" fill="#FF7E79"/>
<circle cx="1372.8" cy="1129.0" r="5.6" fill="#FF7E79"/>
<circle cx="1395.9" cy="1100.3" r="5.6" fill="#FF7E79"/>
<circle cx="1419.0" cy="1079.0" r="5.6" fill="#FF7E79"/>
<circle cx="1442.1" cy="1063.0" r="5.6" fill="#FF7E79"/>
<circle cx="1465.1" cy="1052.3" r="5.6" fill="#FF7E79"/>
<circle cx="1488.2" cy="1046.4" r="5.6" fill="#FF7E79"/>
<circle cx="1511.3" cy="1036.3" r="5.6" fill="#FF7E79"/>
<circle cx="1534.4" cy="1029.4" r="5.6" fill="#FF7E79"/>
<circle cx="1557.5" cy="1025.8" r="5.6" fill="#FF7E79"/>
<circle cx="1580.5" cy="1019.2" r="5.6" fill="#FF7E79"/>
<circle cx="1603.6" cy="1013.7" r="5.6" fill="#FF7E79"/>
<circle cx="1626.7" cy="1008.7" r="5.6" fill="#FF7E79"/>
<circle cx="1649.8" cy="1006.1" r="5.6" fill="#FF7E79"/>
<circle cx="1672.9" cy="1006.8" r="5.6" fill="#FF7E79"/>
<circle cx="1695.9" cy="1004.5" r="5.6" fill="#FF7E79"/>
<circle cx="1719.0" cy="1003.1" r="5.6" fill="#FF7E79"/>
<line x1="1059.6" y1="813.9" x2="1090.4" y2="813.9" stroke="#0433FF" stroke-width="3.1" />
<circle cx="1074.9" cy="813.9" r="5.0" fill="#0433FF"/>
<text x="1105.40" y="822.00" font-size="26.60" class="ar" textLength="93.79" lengthAdjust="spacingAndGlyphs">siCont NT</text>
<line x1="1059.6" y1="857.4" x2="1090.4" y2="857.4" stroke="#0096FF" stroke-width="3.1" />
<rect x="1069.9" y="852.4" width="10.0" height="10.0" fill="#0096FF"/>
<text x="1105.40" y="865.60" font-size="26.60" class="ar" textLength="93.39" lengthAdjust="spacingAndGlyphs">siCont UV</text>
<line x1="1059.6" y1="894.7" x2="1090.4" y2="894.7" stroke="#76D6FF" stroke-width="3.1" />
<path d="M1069.7,900.8 L1080.1,900.8 L1074.9,888.5Z" fill="#76D6FF"/>
<text x="1105.40" y="902.90" font-size="26.60" class="ar" textLength="148.55" lengthAdjust="spacingAndGlyphs">siCont UV+qVD</text>
<line x1="1059.6" y1="937.4" x2="1090.4" y2="937.4" stroke="#FF2600" stroke-width="3.1" />
<path d="M1069.7,931.3 L1080.1,931.3 L1074.9,943.6Z" fill="#FF2600"/>
<text x="1105.40" y="945.90" font-size="26.60" class="ar" textLength="104.79" lengthAdjust="spacingAndGlyphs">siUBR2 NT</text>
<line x1="1059.6" y1="975.0" x2="1090.4" y2="975.0" stroke="#FF9300" stroke-width="3.1" />
<path d="M1070.8,975.0 L1074.9,969.1 L1079.0,975.0 L1074.9,980.9Z" fill="#FF9300"/>
<text x="1105.40" y="983.50" font-size="26.60" class="ar" textLength="104.39" lengthAdjust="spacingAndGlyphs">siUBR2 UV</text>
<line x1="1059.6" y1="1012.5" x2="1090.4" y2="1012.5" stroke="#FF7E79" stroke-width="3.1" />
<circle cx="1074.9" cy="1012.5" r="5.6" fill="#FF7E79"/>
<text x="1105.40" y="1021.20" font-size="26.60" class="ar" textLength="160.75" lengthAdjust="spacingAndGlyphs">siUBR2 UV+qVD</text>
<line x1="1732.3" y1="888.5" x2="1732.3" y2="937.1" stroke="#000" stroke-width="2.5" />
<text x="1739.79" y="921.70" font-size="27.62" textLength="53.88" lengthAdjust="spacingAndGlyphs">N.S.</text>
<line x1="1739.5" y1="1005.4" x2="1739.5" y2="1066.9" stroke="#000" stroke-width="2.5" />
<text class="ar" x="1743.87 1753.17 1762.47" y="1048.95" font-size="26.57">***</text>
<text x="19.34" y="1493.30" font-size="56.10" font-weight="bold" textLength="43.51" lengthAdjust="spacingAndGlyphs">E.</text>
<text x="140.70" y="1571.80" font-size="29.94" textLength="82.24" lengthAdjust="spacingAndGlyphs">siCont</text>
<text x="282.20" y="1571.80" font-size="29.94" textLength="128.32" lengthAdjust="spacingAndGlyphs">siUBR2#1</text>
<text x="433.90" y="1571.80" font-size="29.94" textLength="128.62" lengthAdjust="spacingAndGlyphs">siUBR2#2</text>
<text x="582.90" y="1571.80" font-size="29.94" textLength="126.71" lengthAdjust="spacingAndGlyphs">siUBR2#3</text>
<rect x="117.4" y="1586.3" width="122.2" height="6.6" fill="#000"  />
<rect x="281.3" y="1586.3" width="123.1" height="6.6" fill="#000"  />
<rect x="429.7" y="1586.3" width="122.7" height="6.6" fill="#000"  />
<rect x="576.8" y="1586.3" width="122.7" height="6.6" fill="#000"  />
<text x="122.87" y="1630.60" font-size="29.71" textLength="16.96" lengthAdjust="spacingAndGlyphs">0</text>
<text x="173.67" y="1630.60" font-size="29.71" textLength="16.96" lengthAdjust="spacingAndGlyphs">6</text>
<text x="214.69" y="1630.60" font-size="29.71" textLength="33.13" lengthAdjust="spacingAndGlyphs">16</text>
<text x="274.67" y="1630.60" font-size="29.71" textLength="16.96" lengthAdjust="spacingAndGlyphs">0</text>
<text x="325.47" y="1630.60" font-size="29.71" textLength="16.96" lengthAdjust="spacingAndGlyphs">6</text>
<text x="365.29" y="1630.60" font-size="29.71" textLength="33.13" lengthAdjust="spacingAndGlyphs">16</text>
<text x="422.47" y="1630.60" font-size="29.71" textLength="16.96" lengthAdjust="spacingAndGlyphs">0</text>
<text x="473.27" y="1630.60" font-size="29.71" textLength="16.96" lengthAdjust="spacingAndGlyphs">6</text>
<text x="514.79" y="1630.60" font-size="29.71" textLength="33.13" lengthAdjust="spacingAndGlyphs">16</text>
<text x="575.27" y="1630.60" font-size="29.71" textLength="16.96" lengthAdjust="spacingAndGlyphs">0</text>
<text x="625.67" y="1630.60" font-size="29.71" textLength="16.96" lengthAdjust="spacingAndGlyphs">6</text>
<text x="670.69" y="1630.60" font-size="29.71" textLength="33.13" lengthAdjust="spacingAndGlyphs">16</text>
<text x="738.80" y="1629.00" font-size="30.52" textLength="205.31" lengthAdjust="spacingAndGlyphs">Act D + qVD (h)</text>
<text x="0.67" y="1673.30" font-size="27.03" textLength="71.12" lengthAdjust="spacingAndGlyphs">21 kDa</text>
<text x="0.67" y="1748.00" font-size="27.03" textLength="71.12" lengthAdjust="spacingAndGlyphs">60 kDa</text>
<text x="741.17" y="1680.80" font-size="30.52" textLength="72.37" lengthAdjust="spacingAndGlyphs">Smac</text>
<text x="740.26" y="1755.30" font-size="30.52" textLength="89.14" lengthAdjust="spacingAndGlyphs">HSP60</text>
<rect x="80.8" y="1639.0" width="653.9" height="64.3" fill="url(#gE1)"  />
<g clip-path="url(#cE1)">
<ellipse cx="284" cy="1660" rx="15" ry="26" fill="#8c8c8c" opacity="0.8" filter="url(#b3)"/>
<ellipse cx="432" cy="1655" rx="12" ry="16" fill="#c4c4c4" opacity="0.8" filter="url(#b3)"/>
<ellipse cx="634" cy="1660" rx="13" ry="24" fill="#b0b0b0" opacity="0.8" filter="url(#b3)"/>
<ellipse cx="383" cy="1648" rx="16" ry="5" fill="#c8c8c8" opacity="0.9" filter="url(#b3)"/>
<ellipse cx="532" cy="1646" rx="16" ry="5" fill="#c2c2c2" opacity="0.9" filter="url(#b3)"/>
<ellipse cx="688" cy="1646" rx="16" ry="5" fill="#bcbcbc" opacity="0.9" filter="url(#b3)"/>
<g transform="rotate(4 130.7 1666.3)">
<ellipse cx="130.7" cy="1666.3" rx="18" ry="4.8" fill="#161616" opacity="1" filter="url(#b2)"/>
</g>
<ellipse cx="182.5" cy="1674.6" rx="16" ry="3.6" fill="#8e8e8e" opacity="1" filter="url(#b2)"/>
<ellipse cx="232" cy="1680" rx="14" ry="3" fill="#dedede" opacity="1" filter="url(#b2)"/>
<ellipse cx="284.5" cy="1681" rx="16" ry="4.6" fill="#303030" opacity="1" filter="url(#b2)"/>
<ellipse cx="336" cy="1683.6" rx="14" ry="3.8" fill="#8a8a8a" opacity="1" filter="url(#b2)"/>
<ellipse cx="383" cy="1686" rx="13" ry="3" fill="#d0d0d0" opacity="1" filter="url(#b2)"/>
<g transform="rotate(-12 432.4 1684.2)">
<ellipse cx="432.4" cy="1684.2" rx="18" ry="6.2" fill="#000" opacity="1" filter="url(#b2)"/>
<ellipse cx="432.4" cy="1684.2" rx="14" ry="4" fill="#000" opacity="1" filter="url(#b1)"/>
</g>
<g transform="rotate(9 482.8 1684.8)">
<ellipse cx="482.8" cy="1684.8" rx="16" ry="4.4" fill="#2e2e2e" opacity="1" filter="url(#b2)"/>
</g>
<ellipse cx="532" cy="1688" rx="13" ry="3" fill="#d0d0d0" opacity="1" filter="url(#b2)"/>
<ellipse cx="581.5" cy="1688.6" rx="14.5" ry="3.6" fill="#a4a4a4" opacity="1" filter="url(#b2)"/>
<ellipse cx="630" cy="1687.6" rx="16.5" ry="5.2" fill="#2c2c2c" opacity="1" filter="url(#b2)"/>
<ellipse cx="688" cy="1690" rx="13" ry="3" fill="#dadada" opacity="1" filter="url(#b2)"/>
</g>
<rect x="81.6" y="1639.8" width="652.4" height="62.8" fill="none" stroke="#222" stroke-width="1.6" />
<rect x="80.8" y="1708.5" width="653.9" height="76.2" fill="url(#gE2)"  />
<g clip-path="url(#cE2)">
<rect x="101.7" y="1747.7" width="47.3" height="9.5" rx="4.8" fill="#000" filter="url(#b1)"/>
<rect x="104.7" y="1748.7" width="41.3" height="7.5" rx="3.8" fill="#000" filter="url(#b2)"/>
<rect x="156.2" y="1748.4" width="50.5" height="10.0" rx="5.0" fill="#000" filter="url(#b1)"/>
<rect x="159.2" y="1749.4" width="44.5" height="8.0" rx="4.0" fill="#000" filter="url(#b2)"/>
<rect x="212.8" y="1748.2" width="42.2" height="9.5" rx="4.8" fill="#000" filter="url(#b1)"/>
<rect x="215.8" y="1749.2" width="36.2" height="7.5" rx="3.8" fill="#000" filter="url(#b2)"/>
<rect x="260.0" y="1747.2" width="48.5" height="9.5" rx="4.8" fill="#000" filter="url(#b1)"/>
<rect x="263.0" y="1748.2" width="42.5" height="7.5" rx="3.8" fill="#000" filter="url(#b2)"/>
<rect x="313.6" y="1748.4" width="46.3" height="10.0" rx="5.0" fill="#000" filter="url(#b1)"/>
<rect x="316.6" y="1749.4" width="40.3" height="8.0" rx="4.0" fill="#000" filter="url(#b2)"/>
<rect x="361.9" y="1748.2" width="52.1" height="10.5" rx="5.2" fill="#000" filter="url(#b1)"/>
<rect x="364.9" y="1749.2" width="46.1" height="8.5" rx="4.2" fill="#000" filter="url(#b2)"/>
<rect x="415.0" y="1746.6" width="46.0" height="12.0" rx="6.0" fill="#000" filter="url(#b1)"/>
<rect x="418.0" y="1747.6" width="40.0" height="10.0" rx="5.0" fill="#000" filter="url(#b2)"/>
<rect x="463.0" y="1746.2" width="47.0" height="12.0" rx="6.0" fill="#000" filter="url(#b1)"/>
<rect x="466.0" y="1747.2" width="41.0" height="10.0" rx="5.0" fill="#000" filter="url(#b2)"/>
<rect x="512.0" y="1744.8" width="51.5" height="12.0" rx="6.0" fill="#000" filter="url(#b1)"/>
<rect x="515.0" y="1745.8" width="45.5" height="10.0" rx="5.0" fill="#000" filter="url(#b2)"/>
<rect x="567.6" y="1741.8" width="38.1" height="10.5" rx="5.2" fill="#000" filter="url(#b1)"/>
<rect x="570.6" y="1742.8" width="32.1" height="8.5" rx="4.2" fill="#000" filter="url(#b2)"/>
<rect x="611.8" y="1739.3" width="48.4" height="10.5" rx="5.2" fill="#000" filter="url(#b1)"/>
<rect x="614.8" y="1740.3" width="42.4" height="8.5" rx="4.2" fill="#000" filter="url(#b2)"/>
<rect x="667.3" y="1737.2" width="50.5" height="9.5" rx="4.8" fill="#000" filter="url(#b1)"/>
<rect x="670.3" y="1738.2" width="44.5" height="7.5" rx="3.8" fill="#000" filter="url(#b2)"/>
<polyline points="125.3,1752.4 181.4,1753.4 233.9,1753.0 284.2,1752.0 336.8,1753.4 387.9,1753.4 438.0,1752.6 486.5,1752.2 537.8,1750.8 586.7,1747.0 636.0,1744.6 692.5,1742.0" fill="none" stroke="#000" stroke-width="6" filter="url(#b1)"/>
<ellipse cx="235" cy="1724" rx="14" ry="7" fill="#c4c4c4" opacity="0.9" filter="url(#b3)"/>
</g>
<rect x="81.6" y="1709.3" width="652.4" height="74.7" fill="none" stroke="#1a1a1a" stroke-width="1.7" />
<text x="957.01" y="1476.00" font-size="56.10" font-weight="bold" textLength="39.10" lengthAdjust="spacingAndGlyphs">F.</text>
<polyline points="1118.5,1822.3 1127.5,1816.2 1136.6,1808.7 1142.7,1805.7 1148.7,1805.7 1163.8,1804.2 1175.9,1802.6 1185.0,1793.6 1191.1,1781.5 1197.1,1761.8 1203.2,1740.6 1209.2,1719.5 1213.7,1704.3 1218.3,1695.3 1224.3,1680.1 1230.4,1668.0 1236.4,1659.0 1242.5,1645.3 1251.6,1642.3 1260.6,1636.3 1266.7,1631.7 1272.7,1622.7 1277.3,1619.6 1283.3,1624.2 1290.9,1634.8 1296.9,1643.8 1303.0,1646.9 1312.1,1655.9 1318.1,1657.4 1324.2,1651.4 1330.2,1662.0 1336.2,1668.0 1340.8,1668.0 1345.3,1680.1 1351.4,1695.3 1357.4,1707.4 1362.0,1725.5 1366.5,1746.7 1372.5,1767.9 1378.6,1789.0 1384.6,1807.2 1391.6,1819.3" fill="none" stroke="#FF8AE8" stroke-width="2.3" stroke-linejoin="round"/>
<polyline points="1121.5,1823.8 1133.6,1820.8 1145.7,1808.7 1151.7,1804.8 1163.8,1804.2 1175.9,1803.5 1182.0,1798.1 1191.1,1784.5 1197.1,1767.9 1203.2,1749.7 1209.2,1728.5 1215.3,1713.4 1219.8,1707.4 1224.3,1704.3 1230.4,1689.2 1236.4,1671.1 1242.5,1655.9 1248.5,1645.3 1254.6,1631.7 1260.6,1622.7 1266.7,1615.1 1272.7,1601.5 1277.3,1590.9 1281.8,1584.9 1286.3,1593.9 1292.4,1595.4 1298.4,1601.5 1303.0,1618.1 1307.5,1628.7 1315.1,1634.8 1319.6,1649.9 1325.7,1660.5 1333.2,1665.0 1339.3,1677.1 1345.3,1689.2 1351.4,1704.3 1357.4,1725.5 1363.5,1746.7 1369.5,1767.9 1375.6,1783.0 1381.6,1798.1 1387.7,1810.2 1391.6,1823.8" fill="none" stroke="#FF0000" stroke-width="2.4" stroke-linejoin="round"/>
<polyline points="1121.5,1824.7 1139.6,1820.8 1148.7,1804.2 1153.2,1776.9 1157.8,1746.7 1162.3,1710.4 1166.9,1671.1 1171.4,1631.7 1175.9,1598.5 1180.5,1571.2 1185.0,1557.6 1191.1,1548.6 1197.1,1544.9 1203.2,1551.6 1209.2,1562.2 1215.3,1574.3 1222.8,1586.4 1227.4,1604.5 1233.4,1622.7 1239.5,1637.8 1248.5,1652.9 1257.6,1663.5 1265.2,1677.1 1272.7,1689.2 1278.8,1707.4 1284.8,1722.5 1290.9,1740.6 1296.9,1758.8 1303.0,1776.9 1309.0,1795.1 1318.1,1807.2 1327.2,1814.7 1339.3,1819.9 1354.4,1823.2 1369.5,1824.1" fill="none" stroke="#111" stroke-width="2.2" stroke-linejoin="round"/>
<polyline points="1103.3,1822.9 1127.5,1823.8 1142.7,1822.9 1151.7,1810.2 1157.8,1792.1 1163.8,1767.9 1169.9,1737.6 1175.9,1698.3 1182.0,1659.0 1188.0,1616.6 1194.1,1574.3 1200.1,1550.1 1206.2,1539.5 1210.7,1531.9 1215.3,1539.5 1221.3,1553.1 1227.4,1563.7 1233.4,1583.3 1239.5,1598.5 1245.5,1607.5 1251.6,1628.7 1257.6,1642.3 1263.7,1652.9 1269.7,1668.0 1275.8,1680.1 1281.8,1692.2 1287.9,1714.9 1293.9,1731.6 1300.0,1746.7 1306.0,1761.8 1312.1,1772.4 1318.1,1781.5 1324.2,1790.5 1333.2,1795.1 1345.3,1798.1 1357.4,1804.2 1369.5,1808.7 1378.6,1814.7 1387.7,1822.3 1391.6,1824.7" fill="none" stroke="#00008B" stroke-width="2.4" stroke-linejoin="round"/>
<polyline points="1046.5,1826.0 1046.5,1498.3 1391.6,1498.3 1391.6,1826.0" fill="none" stroke="#111" stroke-width="1.9" />
<line x1="1027.1" y1="1498.6" x2="1046.5" y2="1498.6" stroke="#111" stroke-width="1.9" />
<line x1="1027.1" y1="1823.0" x2="1046.5" y2="1823.0" stroke="#111" stroke-width="1.9" />
<line x1="1039.8" y1="1824.9" x2="1420.0" y2="1824.9" stroke="#000" stroke-width="2.3" />
<polyline points="1399.8,1813.2 1421.0,1824.9 1399.8,1837.4" fill="none" stroke="#000" stroke-width="2.0" />
<line x1="1048.3" y1="1824.9" x2="1048.3" y2="1843.5" stroke="#111" stroke-width="1.9" />
<text x="1170.41" y="1875.40" font-size="30.52" textLength="149.94" lengthAdjust="spacingAndGlyphs">Smac-GFP</text>
<line x1="1415.5" y1="1589.7" x2="1485.0" y2="1589.7" stroke="#FF0000" stroke-width="2.1" />
<text x="1502.00" y="1590.20" font-size="30.52" textLength="154.71" lengthAdjust="spacingAndGlyphs">siCont – NT</text>
<line x1="1415.5" y1="1636.0" x2="1485.0" y2="1636.0" stroke="#222" stroke-width="2.1" />
<text x="1502.00" y="1636.50" font-size="30.52" textLength="270.00" lengthAdjust="spacingAndGlyphs">siCont – Act D +qVD</text>
<line x1="1415.5" y1="1681.2" x2="1485.0" y2="1681.2" stroke="#FF8AE8" stroke-width="2.1" />
<text x="1502.00" y="1681.70" font-size="30.52" textLength="164.69" lengthAdjust="spacingAndGlyphs">siUBR2 – NT</text>
<line x1="1415.5" y1="1727.9" x2="1485.0" y2="1727.9" stroke="#1A1AFF" stroke-width="2.1" />
<text x="1502.00" y="1728.40" font-size="30.52" textLength="280.48" lengthAdjust="spacingAndGlyphs">siUBR2 – Act D +qVD</text>
<text x="359.62" y="1889.20" font-size="56.10" font-weight="bold" textLength="55.76" lengthAdjust="spacingAndGlyphs">G.</text>
<line x1="523.0" y1="1844.3" x2="523.0" y2="2288.5" stroke="#000" stroke-width="2.5" />
<line x1="514.9" y1="2287.3" x2="1177.4" y2="2287.3" stroke="#000" stroke-width="2.6" />
<line x1="516.2" y1="2140.0" x2="523.0" y2="2140.0" stroke="#000" stroke-width="2.3" />
<line x1="516.2" y1="1992.7" x2="523.0" y2="1992.7" stroke="#000" stroke-width="2.3" />
<line x1="516.2" y1="1845.4" x2="523.0" y2="1845.4" stroke="#000" stroke-width="2.3" />
<line x1="631.6" y1="2287.3" x2="631.6" y2="2295.5" stroke="#000" stroke-width="2.3" />
<line x1="850.2" y1="2287.3" x2="850.2" y2="2295.5" stroke="#000" stroke-width="2.3" />
<line x1="1068.8" y1="2287.3" x2="1068.8" y2="2295.5" stroke="#000" stroke-width="2.3" />
<text x="473.09" y="1868.00" font-size="33.71" textLength="35.82" lengthAdjust="spacingAndGlyphs">15</text>
<text x="491.89" y="1911.00" font-size="33.71" textLength="16.98" lengthAdjust="spacingAndGlyphs">0</text>
<text x="473.09" y="2005.70" font-size="33.71" textLength="35.82" lengthAdjust="spacingAndGlyphs">10</text>
<text x="491.89" y="2048.00" font-size="33.71" textLength="16.98" lengthAdjust="spacingAndGlyphs">0</text>
<text x="469.83" y="2152.30" font-size="33.71" textLength="36.18" lengthAdjust="spacingAndGlyphs">50</text>
<text x="487.44" y="2294.80" font-size="33.71" textLength="17.97" lengthAdjust="spacingAndGlyphs">0</text>
<text transform="translate(456.60,2177.00) rotate(-90)" x="-0.87" y="0" font-size="35.76" textLength="245.53" lengthAdjust="spacingAndGlyphs">SMAC GFP (MFI)</text>
<rect x="545.1" y="1939.1" width="33.9" height="348.2" fill="#000"  />
<line x1="562.0" y1="1919.5" x2="562.0" y2="1940.1" stroke="#000" stroke-width="2.4" />
<line x1="553.5" y1="1919.5" x2="570.5" y2="1919.5" stroke="#000" stroke-width="2.4" />
<rect x="592.9" y="2058.1" width="31.5" height="229.2" fill="#B2EBF2" stroke="#000" stroke-width="3" />
<line x1="608.6" y1="2055.8" x2="608.6" y2="2057.6" stroke="#000" stroke-width="2.4" />
<line x1="600.1" y1="2055.8" x2="617.1" y2="2055.8" stroke="#000" stroke-width="2.4" />
<rect x="639.9" y="1919.5" width="31.0" height="367.8" fill="url(#dots)" stroke="#000" stroke-width="3" />
<line x1="655.4" y1="1906.9" x2="655.4" y2="1919.0" stroke="#000" stroke-width="2.4" />
<line x1="646.9" y1="1906.9" x2="663.9" y2="1906.9" stroke="#000" stroke-width="2.4" />
<rect x="686.8" y="1908.6" width="31.2" height="378.7" fill="url(#brick)" stroke="#000" stroke-width="3" />
<line x1="702.4" y1="1905.2" x2="702.4" y2="1908.1" stroke="#000" stroke-width="2.4" />
<line x1="693.9" y1="1905.2" x2="710.9" y2="1905.2" stroke="#000" stroke-width="2.4" />
<rect x="763.1" y="2172.2" width="34.2" height="115.1" fill="#000"  />
<line x1="780.2" y1="2171.0" x2="780.2" y2="2173.2" stroke="#000" stroke-width="2.4" />
<line x1="771.7" y1="2171.0" x2="788.7" y2="2171.0" stroke="#000" stroke-width="2.4" />
<rect x="811.6" y="2189.7" width="30.8" height="97.6" fill="#B2EBF2" stroke="#000" stroke-width="3" />
<line x1="827.0" y1="2186.2" x2="827.0" y2="2189.2" stroke="#000" stroke-width="2.4" />
<line x1="818.5" y1="2186.2" x2="835.5" y2="2186.2" stroke="#000" stroke-width="2.4" />
<rect x="858.7" y="2117.9" width="30.6" height="169.4" fill="url(#dots)" stroke="#000" stroke-width="3" />
<line x1="874.0" y1="2092.0" x2="874.0" y2="2117.4" stroke="#000" stroke-width="2.4" />
<line x1="865.5" y1="2092.0" x2="882.5" y2="2092.0" stroke="#000" stroke-width="2.4" />
<rect x="905.2" y="2130.9" width="30.9" height="156.4" fill="url(#brick)" stroke="#000" stroke-width="3" />
<line x1="920.7" y1="2124.2" x2="920.7" y2="2130.4" stroke="#000" stroke-width="2.4" />
<line x1="912.2" y1="2124.2" x2="929.2" y2="2124.2" stroke="#000" stroke-width="2.4" />
<rect x="981.4" y="2213.0" width="34.2" height="74.3" fill="#000"  />
<line x1="998.5" y1="2212.4" x2="998.5" y2="2214.0" stroke="#000" stroke-width="2.4" />
<line x1="990.0" y1="2212.4" x2="1007.0" y2="2212.4" stroke="#000" stroke-width="2.4" />
<rect x="1029.8" y="2230.1" width="31.2" height="57.2" fill="#B2EBF2" stroke="#000" stroke-width="3" />
<line x1="1045.4" y1="2228.0" x2="1045.4" y2="2229.6" stroke="#000" stroke-width="2.4" />
<line x1="1036.9" y1="2228.0" x2="1053.9" y2="2228.0" stroke="#000" stroke-width="2.4" />
<rect x="1076.7" y="2189.9" width="31.1" height="97.4" fill="url(#dots)" stroke="#000" stroke-width="3" />
<line x1="1092.2" y1="2187.8" x2="1092.2" y2="2189.4" stroke="#000" stroke-width="2.4" />
<line x1="1083.8" y1="2187.8" x2="1100.8" y2="2187.8" stroke="#000" stroke-width="2.4" />
<rect x="1123.5" y="2170.2" width="31.2" height="117.1" fill="url(#brick)" stroke="#000" stroke-width="3" />
<line x1="1139.1" y1="2168.0" x2="1139.1" y2="2169.7" stroke="#000" stroke-width="2.4" />
<line x1="1130.6" y1="2168.0" x2="1147.6" y2="2168.0" stroke="#000" stroke-width="2.4" />
<rect x="1024.7" y="1926.5" width="27.8" height="16.7" fill="#000"  />
<rect x="1026.2" y="1956.8" width="24.8" height="13.6" fill="#B2EBF2" stroke="#000" stroke-width="3" />
<rect x="1026.2" y="1984.6" width="24.8" height="14.2" fill="url(#dots)" stroke="#000" stroke-width="3" />
<rect x="1026.2" y="2013.3" width="24.8" height="14.3" fill="url(#brick)" stroke="#000" stroke-width="3" />
<text x="1063.70" y="1946.20" font-size="29.65" textLength="81.76" lengthAdjust="spacingAndGlyphs">siCont</text>
<text x="1063.70" y="1974.90" font-size="29.65" textLength="126.86" lengthAdjust="spacingAndGlyphs">siUBR2#1</text>
<text x="1063.70" y="2003.10" font-size="29.65" textLength="127.82" lengthAdjust="spacingAndGlyphs">siUBR2#2</text>
<text x="1063.70" y="2032.70" font-size="29.65" textLength="126.86" lengthAdjust="spacingAndGlyphs">siUBR2#3</text>
<text x="1046.06" y="2130.90" font-size="23.26" textLength="42.62" lengthAdjust="spacingAndGlyphs">N.S.</text>
<line x1="995.0" y1="2143.4" x2="1139.6" y2="2143.4" stroke="#000" stroke-width="1.5" />
<text x="421.80" y="2341.00" font-size="35.61" textLength="86.91" lengthAdjust="spacingAndGlyphs">Act D</text>
<text x="420.83" y="2390.00" font-size="35.61" textLength="67.47" lengthAdjust="spacingAndGlyphs">qVD</text>
<text x="551.44" y="2341.85" font-size="41.00" textLength="12.72" lengthAdjust="spacingAndGlyphs">-</text>
<text x="600.64" y="2341.85" font-size="41.00" textLength="12.72" lengthAdjust="spacingAndGlyphs">-</text>
<text x="649.54" y="2341.85" font-size="41.00" textLength="12.72" lengthAdjust="spacingAndGlyphs">-</text>
<text x="698.54" y="2341.85" font-size="41.00" textLength="12.72" lengthAdjust="spacingAndGlyphs">-</text>
<text x="764.77" y="2342.62" font-size="38.00" textLength="20.24" lengthAdjust="spacingAndGlyphs">+</text>
<text x="811.97" y="2342.62" font-size="38.00" textLength="20.24" lengthAdjust="spacingAndGlyphs">+</text>
<text x="869.47" y="2342.62" font-size="38.00" textLength="20.24" lengthAdjust="spacingAndGlyphs">+</text>
<text x="916.97" y="2342.62" font-size="38.00" textLength="20.24" lengthAdjust="spacingAndGlyphs">+</text>
<text x="973.47" y="2342.62" font-size="38.00" textLength="20.24" lengthAdjust="spacingAndGlyphs">+</text>
<text x="1030.37" y="2342.62" font-size="38.00" textLength="20.24" lengthAdjust="spacingAndGlyphs">+</text>
<text x="1087.87" y="2342.62" font-size="38.00" textLength="20.24" lengthAdjust="spacingAndGlyphs">+</text>
<text x="1144.67" y="2342.62" font-size="38.00" textLength="20.24" lengthAdjust="spacingAndGlyphs">+</text>
<text x="551.44" y="2390.55" font-size="41.00" textLength="12.72" lengthAdjust="spacingAndGlyphs">-</text>
<text x="600.64" y="2390.55" font-size="41.00" textLength="12.72" lengthAdjust="spacingAndGlyphs">-</text>
<text x="649.54" y="2390.55" font-size="41.00" textLength="12.72" lengthAdjust="spacingAndGlyphs">-</text>
<text x="698.54" y="2390.55" font-size="41.00" textLength="12.72" lengthAdjust="spacingAndGlyphs">-</text>
<text x="775.14" y="2390.55" font-size="41.00" textLength="12.72" lengthAdjust="spacingAndGlyphs">-</text>
<text x="823.14" y="2390.55" font-size="41.00" textLength="12.72" lengthAdjust="spacingAndGlyphs">-</text>
<text x="862.54" y="2390.55" font-size="41.00" textLength="12.72" lengthAdjust="spacingAndGlyphs">-</text>
<text x="911.84" y="2390.55" font-size="41.00" textLength="12.72" lengthAdjust="spacingAndGlyphs">-</text>
<text x="978.06" y="2392.02" font-size="38.00" textLength="20.24" lengthAdjust="spacingAndGlyphs">+</text>
<text x="1033.72" y="2392.02" font-size="38.00" textLength="20.24" lengthAdjust="spacingAndGlyphs">+</text>
<text x="1091.81" y="2392.02" font-size="38.00" textLength="20.24" lengthAdjust="spacingAndGlyphs">+</text>
<text x="1148.92" y="2392.02" font-size="38.00" textLength="20.24" lengthAdjust="spacingAndGlyphs">+</text>
<text x="1578.56" y="2373.50" font-size="55.09" textLength="194.21" lengthAdjust="spacingAndGlyphs">Figure 3</text>
</svg>
</body></html>
